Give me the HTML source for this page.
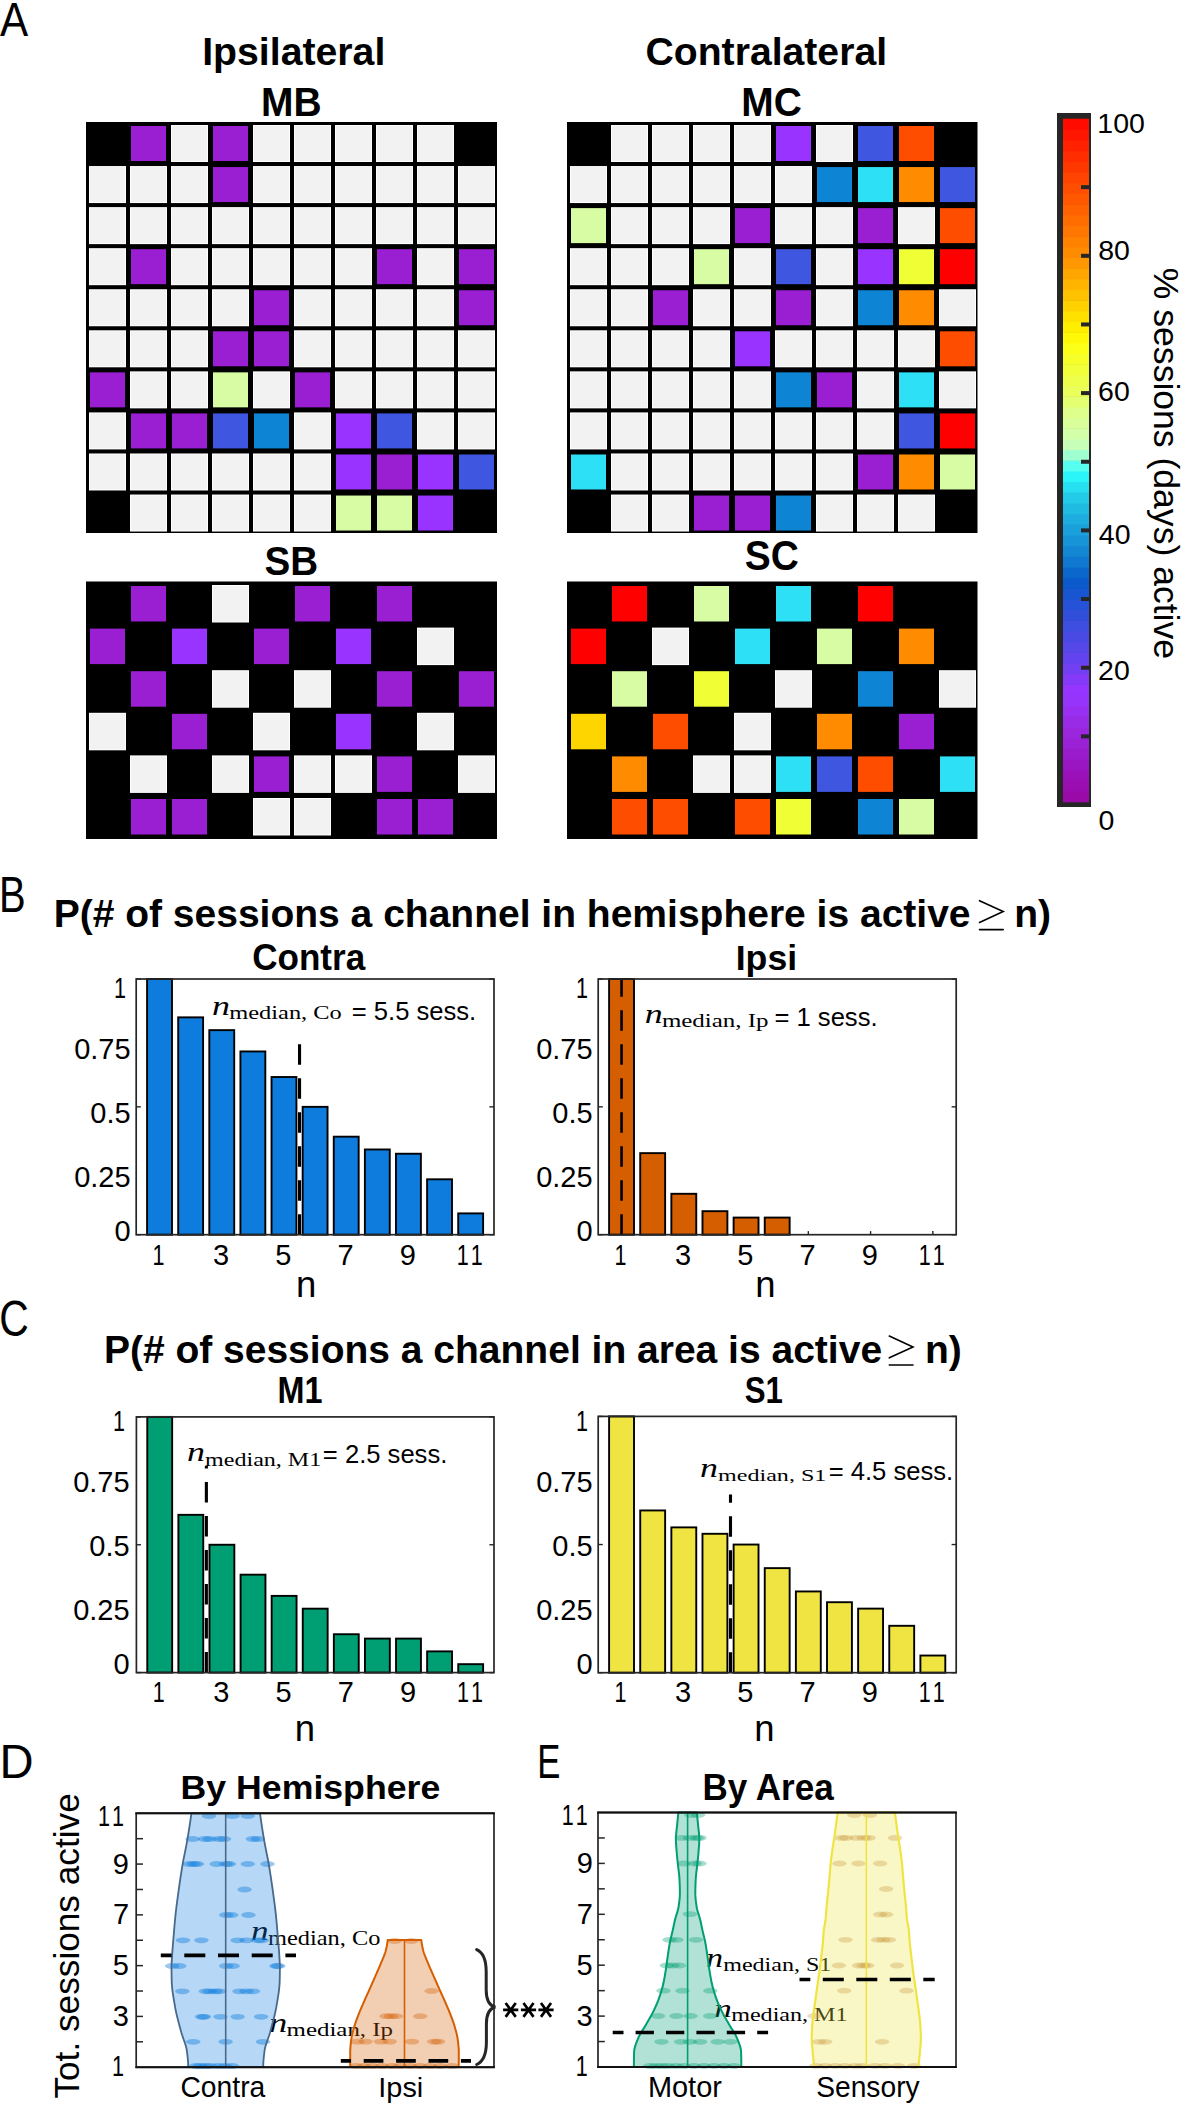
<!DOCTYPE html>
<html><head><meta charset="utf-8"><style>
html,body{margin:0;padding:0;background:#fff;}
body{width:1181px;height:2103px;overflow:hidden;}
svg{display:block;}
</style></head><body>
<svg width="1181" height="2103" viewBox="0 0 1181 2103">
<rect width="1181" height="2103" fill="#fff"/>
<rect x="86.00" y="122.00" width="411.00" height="411.00" fill="#000" />
<rect x="131.00" y="126.00" width="35.00" height="35.00" fill="#9A1ED2" />
<rect x="171.00" y="125.00" width="37.00" height="37.00" fill="#FFFFFF" />
<rect x="172.00" y="126.00" width="35.00" height="35.00" fill="#F2F2F2" />
<rect x="213.00" y="126.00" width="35.00" height="35.00" fill="#9A1ED2" />
<rect x="253.00" y="125.00" width="37.00" height="37.00" fill="#FFFFFF" />
<rect x="254.00" y="126.00" width="35.00" height="35.00" fill="#F2F2F2" />
<rect x="294.00" y="125.00" width="37.00" height="37.00" fill="#FFFFFF" />
<rect x="295.00" y="126.00" width="35.00" height="35.00" fill="#F2F2F2" />
<rect x="335.00" y="125.00" width="37.00" height="37.00" fill="#FFFFFF" />
<rect x="336.00" y="126.00" width="35.00" height="35.00" fill="#F2F2F2" />
<rect x="376.00" y="125.00" width="37.00" height="37.00" fill="#FFFFFF" />
<rect x="377.00" y="126.00" width="35.00" height="35.00" fill="#F2F2F2" />
<rect x="417.00" y="125.00" width="37.00" height="37.00" fill="#FFFFFF" />
<rect x="418.00" y="126.00" width="35.00" height="35.00" fill="#F2F2F2" />
<rect x="89.00" y="166.06" width="37.00" height="37.00" fill="#FFFFFF" />
<rect x="90.00" y="167.06" width="35.00" height="35.00" fill="#F2F2F2" />
<rect x="130.00" y="166.06" width="37.00" height="37.00" fill="#FFFFFF" />
<rect x="131.00" y="167.06" width="35.00" height="35.00" fill="#F2F2F2" />
<rect x="171.00" y="166.06" width="37.00" height="37.00" fill="#FFFFFF" />
<rect x="172.00" y="167.06" width="35.00" height="35.00" fill="#F2F2F2" />
<rect x="213.00" y="167.06" width="35.00" height="35.00" fill="#9A1ED2" />
<rect x="253.00" y="166.06" width="37.00" height="37.00" fill="#FFFFFF" />
<rect x="254.00" y="167.06" width="35.00" height="35.00" fill="#F2F2F2" />
<rect x="294.00" y="166.06" width="37.00" height="37.00" fill="#FFFFFF" />
<rect x="295.00" y="167.06" width="35.00" height="35.00" fill="#F2F2F2" />
<rect x="335.00" y="166.06" width="37.00" height="37.00" fill="#FFFFFF" />
<rect x="336.00" y="167.06" width="35.00" height="35.00" fill="#F2F2F2" />
<rect x="376.00" y="166.06" width="37.00" height="37.00" fill="#FFFFFF" />
<rect x="377.00" y="167.06" width="35.00" height="35.00" fill="#F2F2F2" />
<rect x="417.00" y="166.06" width="37.00" height="37.00" fill="#FFFFFF" />
<rect x="418.00" y="167.06" width="35.00" height="35.00" fill="#F2F2F2" />
<rect x="458.00" y="166.06" width="37.00" height="37.00" fill="#FFFFFF" />
<rect x="459.00" y="167.06" width="35.00" height="35.00" fill="#F2F2F2" />
<rect x="89.00" y="207.12" width="37.00" height="37.00" fill="#FFFFFF" />
<rect x="90.00" y="208.12" width="35.00" height="35.00" fill="#F2F2F2" />
<rect x="130.00" y="207.12" width="37.00" height="37.00" fill="#FFFFFF" />
<rect x="131.00" y="208.12" width="35.00" height="35.00" fill="#F2F2F2" />
<rect x="171.00" y="207.12" width="37.00" height="37.00" fill="#FFFFFF" />
<rect x="172.00" y="208.12" width="35.00" height="35.00" fill="#F2F2F2" />
<rect x="212.00" y="207.12" width="37.00" height="37.00" fill="#FFFFFF" />
<rect x="213.00" y="208.12" width="35.00" height="35.00" fill="#F2F2F2" />
<rect x="253.00" y="207.12" width="37.00" height="37.00" fill="#FFFFFF" />
<rect x="254.00" y="208.12" width="35.00" height="35.00" fill="#F2F2F2" />
<rect x="294.00" y="207.12" width="37.00" height="37.00" fill="#FFFFFF" />
<rect x="295.00" y="208.12" width="35.00" height="35.00" fill="#F2F2F2" />
<rect x="335.00" y="207.12" width="37.00" height="37.00" fill="#FFFFFF" />
<rect x="336.00" y="208.12" width="35.00" height="35.00" fill="#F2F2F2" />
<rect x="376.00" y="207.12" width="37.00" height="37.00" fill="#FFFFFF" />
<rect x="377.00" y="208.12" width="35.00" height="35.00" fill="#F2F2F2" />
<rect x="417.00" y="207.12" width="37.00" height="37.00" fill="#FFFFFF" />
<rect x="418.00" y="208.12" width="35.00" height="35.00" fill="#F2F2F2" />
<rect x="458.00" y="207.12" width="37.00" height="37.00" fill="#FFFFFF" />
<rect x="459.00" y="208.12" width="35.00" height="35.00" fill="#F2F2F2" />
<rect x="89.00" y="248.18" width="37.00" height="37.00" fill="#FFFFFF" />
<rect x="90.00" y="249.18" width="35.00" height="35.00" fill="#F2F2F2" />
<rect x="131.00" y="249.18" width="35.00" height="35.00" fill="#9A1ED2" />
<rect x="171.00" y="248.18" width="37.00" height="37.00" fill="#FFFFFF" />
<rect x="172.00" y="249.18" width="35.00" height="35.00" fill="#F2F2F2" />
<rect x="212.00" y="248.18" width="37.00" height="37.00" fill="#FFFFFF" />
<rect x="213.00" y="249.18" width="35.00" height="35.00" fill="#F2F2F2" />
<rect x="253.00" y="248.18" width="37.00" height="37.00" fill="#FFFFFF" />
<rect x="254.00" y="249.18" width="35.00" height="35.00" fill="#F2F2F2" />
<rect x="294.00" y="248.18" width="37.00" height="37.00" fill="#FFFFFF" />
<rect x="295.00" y="249.18" width="35.00" height="35.00" fill="#F2F2F2" />
<rect x="335.00" y="248.18" width="37.00" height="37.00" fill="#FFFFFF" />
<rect x="336.00" y="249.18" width="35.00" height="35.00" fill="#F2F2F2" />
<rect x="377.00" y="249.18" width="35.00" height="35.00" fill="#9A1ED2" />
<rect x="417.00" y="248.18" width="37.00" height="37.00" fill="#FFFFFF" />
<rect x="418.00" y="249.18" width="35.00" height="35.00" fill="#F2F2F2" />
<rect x="459.00" y="249.18" width="35.00" height="35.00" fill="#9A1ED2" />
<rect x="89.00" y="289.24" width="37.00" height="37.00" fill="#FFFFFF" />
<rect x="90.00" y="290.24" width="35.00" height="35.00" fill="#F2F2F2" />
<rect x="130.00" y="289.24" width="37.00" height="37.00" fill="#FFFFFF" />
<rect x="131.00" y="290.24" width="35.00" height="35.00" fill="#F2F2F2" />
<rect x="171.00" y="289.24" width="37.00" height="37.00" fill="#FFFFFF" />
<rect x="172.00" y="290.24" width="35.00" height="35.00" fill="#F2F2F2" />
<rect x="212.00" y="289.24" width="37.00" height="37.00" fill="#FFFFFF" />
<rect x="213.00" y="290.24" width="35.00" height="35.00" fill="#F2F2F2" />
<rect x="254.00" y="290.24" width="35.00" height="35.00" fill="#9A1ED2" />
<rect x="294.00" y="289.24" width="37.00" height="37.00" fill="#FFFFFF" />
<rect x="295.00" y="290.24" width="35.00" height="35.00" fill="#F2F2F2" />
<rect x="335.00" y="289.24" width="37.00" height="37.00" fill="#FFFFFF" />
<rect x="336.00" y="290.24" width="35.00" height="35.00" fill="#F2F2F2" />
<rect x="376.00" y="289.24" width="37.00" height="37.00" fill="#FFFFFF" />
<rect x="377.00" y="290.24" width="35.00" height="35.00" fill="#F2F2F2" />
<rect x="417.00" y="289.24" width="37.00" height="37.00" fill="#FFFFFF" />
<rect x="418.00" y="290.24" width="35.00" height="35.00" fill="#F2F2F2" />
<rect x="459.00" y="290.24" width="35.00" height="35.00" fill="#9A1ED2" />
<rect x="89.00" y="330.30" width="37.00" height="37.00" fill="#FFFFFF" />
<rect x="90.00" y="331.30" width="35.00" height="35.00" fill="#F2F2F2" />
<rect x="130.00" y="330.30" width="37.00" height="37.00" fill="#FFFFFF" />
<rect x="131.00" y="331.30" width="35.00" height="35.00" fill="#F2F2F2" />
<rect x="171.00" y="330.30" width="37.00" height="37.00" fill="#FFFFFF" />
<rect x="172.00" y="331.30" width="35.00" height="35.00" fill="#F2F2F2" />
<rect x="213.00" y="331.30" width="35.00" height="35.00" fill="#9A1ED2" />
<rect x="254.00" y="331.30" width="35.00" height="35.00" fill="#9A1ED2" />
<rect x="294.00" y="330.30" width="37.00" height="37.00" fill="#FFFFFF" />
<rect x="295.00" y="331.30" width="35.00" height="35.00" fill="#F2F2F2" />
<rect x="335.00" y="330.30" width="37.00" height="37.00" fill="#FFFFFF" />
<rect x="336.00" y="331.30" width="35.00" height="35.00" fill="#F2F2F2" />
<rect x="376.00" y="330.30" width="37.00" height="37.00" fill="#FFFFFF" />
<rect x="377.00" y="331.30" width="35.00" height="35.00" fill="#F2F2F2" />
<rect x="417.00" y="330.30" width="37.00" height="37.00" fill="#FFFFFF" />
<rect x="418.00" y="331.30" width="35.00" height="35.00" fill="#F2F2F2" />
<rect x="458.00" y="330.30" width="37.00" height="37.00" fill="#FFFFFF" />
<rect x="459.00" y="331.30" width="35.00" height="35.00" fill="#F2F2F2" />
<rect x="90.00" y="372.36" width="35.00" height="35.00" fill="#9A1ED2" />
<rect x="130.00" y="371.36" width="37.00" height="37.00" fill="#FFFFFF" />
<rect x="131.00" y="372.36" width="35.00" height="35.00" fill="#F2F2F2" />
<rect x="171.00" y="371.36" width="37.00" height="37.00" fill="#FFFFFF" />
<rect x="172.00" y="372.36" width="35.00" height="35.00" fill="#F2F2F2" />
<rect x="213.00" y="372.36" width="35.00" height="35.00" fill="#D8FCA4" />
<rect x="253.00" y="371.36" width="37.00" height="37.00" fill="#FFFFFF" />
<rect x="254.00" y="372.36" width="35.00" height="35.00" fill="#F2F2F2" />
<rect x="295.00" y="372.36" width="35.00" height="35.00" fill="#9A1ED2" />
<rect x="335.00" y="371.36" width="37.00" height="37.00" fill="#FFFFFF" />
<rect x="336.00" y="372.36" width="35.00" height="35.00" fill="#F2F2F2" />
<rect x="376.00" y="371.36" width="37.00" height="37.00" fill="#FFFFFF" />
<rect x="377.00" y="372.36" width="35.00" height="35.00" fill="#F2F2F2" />
<rect x="417.00" y="371.36" width="37.00" height="37.00" fill="#FFFFFF" />
<rect x="418.00" y="372.36" width="35.00" height="35.00" fill="#F2F2F2" />
<rect x="458.00" y="371.36" width="37.00" height="37.00" fill="#FFFFFF" />
<rect x="459.00" y="372.36" width="35.00" height="35.00" fill="#F2F2F2" />
<rect x="89.00" y="412.42" width="37.00" height="37.00" fill="#FFFFFF" />
<rect x="90.00" y="413.42" width="35.00" height="35.00" fill="#F2F2F2" />
<rect x="131.00" y="413.42" width="35.00" height="35.00" fill="#9A1ED2" />
<rect x="172.00" y="413.42" width="35.00" height="35.00" fill="#9A1ED2" />
<rect x="213.00" y="413.42" width="35.00" height="35.00" fill="#3F56E0" />
<rect x="254.00" y="413.42" width="35.00" height="35.00" fill="#0E84D4" />
<rect x="294.00" y="412.42" width="37.00" height="37.00" fill="#FFFFFF" />
<rect x="295.00" y="413.42" width="35.00" height="35.00" fill="#F2F2F2" />
<rect x="336.00" y="413.42" width="35.00" height="35.00" fill="#9933FF" />
<rect x="377.00" y="413.42" width="35.00" height="35.00" fill="#3F56E0" />
<rect x="417.00" y="412.42" width="37.00" height="37.00" fill="#FFFFFF" />
<rect x="418.00" y="413.42" width="35.00" height="35.00" fill="#F2F2F2" />
<rect x="458.00" y="412.42" width="37.00" height="37.00" fill="#FFFFFF" />
<rect x="459.00" y="413.42" width="35.00" height="35.00" fill="#F2F2F2" />
<rect x="89.00" y="453.48" width="37.00" height="37.00" fill="#FFFFFF" />
<rect x="90.00" y="454.48" width="35.00" height="35.00" fill="#F2F2F2" />
<rect x="130.00" y="453.48" width="37.00" height="37.00" fill="#FFFFFF" />
<rect x="131.00" y="454.48" width="35.00" height="35.00" fill="#F2F2F2" />
<rect x="171.00" y="453.48" width="37.00" height="37.00" fill="#FFFFFF" />
<rect x="172.00" y="454.48" width="35.00" height="35.00" fill="#F2F2F2" />
<rect x="212.00" y="453.48" width="37.00" height="37.00" fill="#FFFFFF" />
<rect x="213.00" y="454.48" width="35.00" height="35.00" fill="#F2F2F2" />
<rect x="253.00" y="453.48" width="37.00" height="37.00" fill="#FFFFFF" />
<rect x="254.00" y="454.48" width="35.00" height="35.00" fill="#F2F2F2" />
<rect x="294.00" y="453.48" width="37.00" height="37.00" fill="#FFFFFF" />
<rect x="295.00" y="454.48" width="35.00" height="35.00" fill="#F2F2F2" />
<rect x="336.00" y="454.48" width="35.00" height="35.00" fill="#9933FF" />
<rect x="377.00" y="454.48" width="35.00" height="35.00" fill="#9A1ED2" />
<rect x="418.00" y="454.48" width="35.00" height="35.00" fill="#9933FF" />
<rect x="459.00" y="454.48" width="35.00" height="35.00" fill="#3F56E0" />
<rect x="130.00" y="494.54" width="37.00" height="37.00" fill="#FFFFFF" />
<rect x="131.00" y="495.54" width="35.00" height="35.00" fill="#F2F2F2" />
<rect x="171.00" y="494.54" width="37.00" height="37.00" fill="#FFFFFF" />
<rect x="172.00" y="495.54" width="35.00" height="35.00" fill="#F2F2F2" />
<rect x="212.00" y="494.54" width="37.00" height="37.00" fill="#FFFFFF" />
<rect x="213.00" y="495.54" width="35.00" height="35.00" fill="#F2F2F2" />
<rect x="253.00" y="494.54" width="37.00" height="37.00" fill="#FFFFFF" />
<rect x="254.00" y="495.54" width="35.00" height="35.00" fill="#F2F2F2" />
<rect x="294.00" y="494.54" width="37.00" height="37.00" fill="#FFFFFF" />
<rect x="295.00" y="495.54" width="35.00" height="35.00" fill="#F2F2F2" />
<rect x="336.00" y="495.54" width="35.00" height="35.00" fill="#D8FCA4" />
<rect x="377.00" y="495.54" width="35.00" height="35.00" fill="#D8FCA4" />
<rect x="418.00" y="495.54" width="35.00" height="35.00" fill="#9933FF" />
<rect x="567.00" y="122.00" width="410.50" height="411.00" fill="#000" />
<rect x="611.00" y="125.00" width="37.00" height="37.00" fill="#FFFFFF" />
<rect x="612.00" y="126.00" width="35.00" height="35.00" fill="#F2F2F2" />
<rect x="652.00" y="125.00" width="37.00" height="37.00" fill="#FFFFFF" />
<rect x="653.00" y="126.00" width="35.00" height="35.00" fill="#F2F2F2" />
<rect x="693.00" y="125.00" width="37.00" height="37.00" fill="#FFFFFF" />
<rect x="694.00" y="126.00" width="35.00" height="35.00" fill="#F2F2F2" />
<rect x="734.00" y="125.00" width="37.00" height="37.00" fill="#FFFFFF" />
<rect x="735.00" y="126.00" width="35.00" height="35.00" fill="#F2F2F2" />
<rect x="776.00" y="126.00" width="35.00" height="35.00" fill="#9933FF" />
<rect x="816.00" y="125.00" width="37.00" height="37.00" fill="#FFFFFF" />
<rect x="817.00" y="126.00" width="35.00" height="35.00" fill="#F2F2F2" />
<rect x="858.00" y="126.00" width="35.00" height="35.00" fill="#3F56E0" />
<rect x="899.00" y="126.00" width="35.00" height="35.00" fill="#FF4D00" />
<rect x="570.00" y="166.06" width="37.00" height="37.00" fill="#FFFFFF" />
<rect x="571.00" y="167.06" width="35.00" height="35.00" fill="#F2F2F2" />
<rect x="611.00" y="166.06" width="37.00" height="37.00" fill="#FFFFFF" />
<rect x="612.00" y="167.06" width="35.00" height="35.00" fill="#F2F2F2" />
<rect x="652.00" y="166.06" width="37.00" height="37.00" fill="#FFFFFF" />
<rect x="653.00" y="167.06" width="35.00" height="35.00" fill="#F2F2F2" />
<rect x="693.00" y="166.06" width="37.00" height="37.00" fill="#FFFFFF" />
<rect x="694.00" y="167.06" width="35.00" height="35.00" fill="#F2F2F2" />
<rect x="734.00" y="166.06" width="37.00" height="37.00" fill="#FFFFFF" />
<rect x="735.00" y="167.06" width="35.00" height="35.00" fill="#F2F2F2" />
<rect x="775.00" y="166.06" width="37.00" height="37.00" fill="#FFFFFF" />
<rect x="776.00" y="167.06" width="35.00" height="35.00" fill="#F2F2F2" />
<rect x="817.00" y="167.06" width="35.00" height="35.00" fill="#0E84D4" />
<rect x="858.00" y="167.06" width="35.00" height="35.00" fill="#2EE0F5" />
<rect x="899.00" y="167.06" width="35.00" height="35.00" fill="#FF8C00" />
<rect x="940.00" y="167.06" width="35.00" height="35.00" fill="#3F56E0" />
<rect x="571.00" y="208.12" width="35.00" height="35.00" fill="#D8FCA4" />
<rect x="611.00" y="207.12" width="37.00" height="37.00" fill="#FFFFFF" />
<rect x="612.00" y="208.12" width="35.00" height="35.00" fill="#F2F2F2" />
<rect x="652.00" y="207.12" width="37.00" height="37.00" fill="#FFFFFF" />
<rect x="653.00" y="208.12" width="35.00" height="35.00" fill="#F2F2F2" />
<rect x="693.00" y="207.12" width="37.00" height="37.00" fill="#FFFFFF" />
<rect x="694.00" y="208.12" width="35.00" height="35.00" fill="#F2F2F2" />
<rect x="735.00" y="208.12" width="35.00" height="35.00" fill="#9A1ED2" />
<rect x="775.00" y="207.12" width="37.00" height="37.00" fill="#FFFFFF" />
<rect x="776.00" y="208.12" width="35.00" height="35.00" fill="#F2F2F2" />
<rect x="816.00" y="207.12" width="37.00" height="37.00" fill="#FFFFFF" />
<rect x="817.00" y="208.12" width="35.00" height="35.00" fill="#F2F2F2" />
<rect x="858.00" y="208.12" width="35.00" height="35.00" fill="#9A1ED2" />
<rect x="898.00" y="207.12" width="37.00" height="37.00" fill="#FFFFFF" />
<rect x="899.00" y="208.12" width="35.00" height="35.00" fill="#F2F2F2" />
<rect x="940.00" y="208.12" width="35.00" height="35.00" fill="#FF4D00" />
<rect x="570.00" y="248.18" width="37.00" height="37.00" fill="#FFFFFF" />
<rect x="571.00" y="249.18" width="35.00" height="35.00" fill="#F2F2F2" />
<rect x="611.00" y="248.18" width="37.00" height="37.00" fill="#FFFFFF" />
<rect x="612.00" y="249.18" width="35.00" height="35.00" fill="#F2F2F2" />
<rect x="652.00" y="248.18" width="37.00" height="37.00" fill="#FFFFFF" />
<rect x="653.00" y="249.18" width="35.00" height="35.00" fill="#F2F2F2" />
<rect x="694.00" y="249.18" width="35.00" height="35.00" fill="#D8FCA4" />
<rect x="734.00" y="248.18" width="37.00" height="37.00" fill="#FFFFFF" />
<rect x="735.00" y="249.18" width="35.00" height="35.00" fill="#F2F2F2" />
<rect x="776.00" y="249.18" width="35.00" height="35.00" fill="#3F56E0" />
<rect x="816.00" y="248.18" width="37.00" height="37.00" fill="#FFFFFF" />
<rect x="817.00" y="249.18" width="35.00" height="35.00" fill="#F2F2F2" />
<rect x="858.00" y="249.18" width="35.00" height="35.00" fill="#9933FF" />
<rect x="899.00" y="249.18" width="35.00" height="35.00" fill="#F0FF35" />
<rect x="940.00" y="249.18" width="35.00" height="35.00" fill="#FF0000" />
<rect x="570.00" y="289.24" width="37.00" height="37.00" fill="#FFFFFF" />
<rect x="571.00" y="290.24" width="35.00" height="35.00" fill="#F2F2F2" />
<rect x="611.00" y="289.24" width="37.00" height="37.00" fill="#FFFFFF" />
<rect x="612.00" y="290.24" width="35.00" height="35.00" fill="#F2F2F2" />
<rect x="653.00" y="290.24" width="35.00" height="35.00" fill="#9A1ED2" />
<rect x="693.00" y="289.24" width="37.00" height="37.00" fill="#FFFFFF" />
<rect x="694.00" y="290.24" width="35.00" height="35.00" fill="#F2F2F2" />
<rect x="734.00" y="289.24" width="37.00" height="37.00" fill="#FFFFFF" />
<rect x="735.00" y="290.24" width="35.00" height="35.00" fill="#F2F2F2" />
<rect x="776.00" y="290.24" width="35.00" height="35.00" fill="#9A1ED2" />
<rect x="816.00" y="289.24" width="37.00" height="37.00" fill="#FFFFFF" />
<rect x="817.00" y="290.24" width="35.00" height="35.00" fill="#F2F2F2" />
<rect x="858.00" y="290.24" width="35.00" height="35.00" fill="#0E84D4" />
<rect x="899.00" y="290.24" width="35.00" height="35.00" fill="#FF8C00" />
<rect x="939.00" y="289.24" width="37.00" height="37.00" fill="#FFFFFF" />
<rect x="940.00" y="290.24" width="35.00" height="35.00" fill="#F2F2F2" />
<rect x="570.00" y="330.30" width="37.00" height="37.00" fill="#FFFFFF" />
<rect x="571.00" y="331.30" width="35.00" height="35.00" fill="#F2F2F2" />
<rect x="611.00" y="330.30" width="37.00" height="37.00" fill="#FFFFFF" />
<rect x="612.00" y="331.30" width="35.00" height="35.00" fill="#F2F2F2" />
<rect x="652.00" y="330.30" width="37.00" height="37.00" fill="#FFFFFF" />
<rect x="653.00" y="331.30" width="35.00" height="35.00" fill="#F2F2F2" />
<rect x="693.00" y="330.30" width="37.00" height="37.00" fill="#FFFFFF" />
<rect x="694.00" y="331.30" width="35.00" height="35.00" fill="#F2F2F2" />
<rect x="735.00" y="331.30" width="35.00" height="35.00" fill="#9933FF" />
<rect x="775.00" y="330.30" width="37.00" height="37.00" fill="#FFFFFF" />
<rect x="776.00" y="331.30" width="35.00" height="35.00" fill="#F2F2F2" />
<rect x="816.00" y="330.30" width="37.00" height="37.00" fill="#FFFFFF" />
<rect x="817.00" y="331.30" width="35.00" height="35.00" fill="#F2F2F2" />
<rect x="857.00" y="330.30" width="37.00" height="37.00" fill="#FFFFFF" />
<rect x="858.00" y="331.30" width="35.00" height="35.00" fill="#F2F2F2" />
<rect x="898.00" y="330.30" width="37.00" height="37.00" fill="#FFFFFF" />
<rect x="899.00" y="331.30" width="35.00" height="35.00" fill="#F2F2F2" />
<rect x="940.00" y="331.30" width="35.00" height="35.00" fill="#FF4D00" />
<rect x="570.00" y="371.36" width="37.00" height="37.00" fill="#FFFFFF" />
<rect x="571.00" y="372.36" width="35.00" height="35.00" fill="#F2F2F2" />
<rect x="611.00" y="371.36" width="37.00" height="37.00" fill="#FFFFFF" />
<rect x="612.00" y="372.36" width="35.00" height="35.00" fill="#F2F2F2" />
<rect x="652.00" y="371.36" width="37.00" height="37.00" fill="#FFFFFF" />
<rect x="653.00" y="372.36" width="35.00" height="35.00" fill="#F2F2F2" />
<rect x="693.00" y="371.36" width="37.00" height="37.00" fill="#FFFFFF" />
<rect x="694.00" y="372.36" width="35.00" height="35.00" fill="#F2F2F2" />
<rect x="734.00" y="371.36" width="37.00" height="37.00" fill="#FFFFFF" />
<rect x="735.00" y="372.36" width="35.00" height="35.00" fill="#F2F2F2" />
<rect x="776.00" y="372.36" width="35.00" height="35.00" fill="#0E84D4" />
<rect x="817.00" y="372.36" width="35.00" height="35.00" fill="#9A1ED2" />
<rect x="857.00" y="371.36" width="37.00" height="37.00" fill="#FFFFFF" />
<rect x="858.00" y="372.36" width="35.00" height="35.00" fill="#F2F2F2" />
<rect x="899.00" y="372.36" width="35.00" height="35.00" fill="#2EE0F5" />
<rect x="939.00" y="371.36" width="37.00" height="37.00" fill="#FFFFFF" />
<rect x="940.00" y="372.36" width="35.00" height="35.00" fill="#F2F2F2" />
<rect x="570.00" y="412.42" width="37.00" height="37.00" fill="#FFFFFF" />
<rect x="571.00" y="413.42" width="35.00" height="35.00" fill="#F2F2F2" />
<rect x="611.00" y="412.42" width="37.00" height="37.00" fill="#FFFFFF" />
<rect x="612.00" y="413.42" width="35.00" height="35.00" fill="#F2F2F2" />
<rect x="652.00" y="412.42" width="37.00" height="37.00" fill="#FFFFFF" />
<rect x="653.00" y="413.42" width="35.00" height="35.00" fill="#F2F2F2" />
<rect x="693.00" y="412.42" width="37.00" height="37.00" fill="#FFFFFF" />
<rect x="694.00" y="413.42" width="35.00" height="35.00" fill="#F2F2F2" />
<rect x="734.00" y="412.42" width="37.00" height="37.00" fill="#FFFFFF" />
<rect x="735.00" y="413.42" width="35.00" height="35.00" fill="#F2F2F2" />
<rect x="775.00" y="412.42" width="37.00" height="37.00" fill="#FFFFFF" />
<rect x="776.00" y="413.42" width="35.00" height="35.00" fill="#F2F2F2" />
<rect x="816.00" y="412.42" width="37.00" height="37.00" fill="#FFFFFF" />
<rect x="817.00" y="413.42" width="35.00" height="35.00" fill="#F2F2F2" />
<rect x="857.00" y="412.42" width="37.00" height="37.00" fill="#FFFFFF" />
<rect x="858.00" y="413.42" width="35.00" height="35.00" fill="#F2F2F2" />
<rect x="899.00" y="413.42" width="35.00" height="35.00" fill="#3F56E0" />
<rect x="940.00" y="413.42" width="35.00" height="35.00" fill="#FF0000" />
<rect x="571.00" y="454.48" width="35.00" height="35.00" fill="#2EE0F5" />
<rect x="611.00" y="453.48" width="37.00" height="37.00" fill="#FFFFFF" />
<rect x="612.00" y="454.48" width="35.00" height="35.00" fill="#F2F2F2" />
<rect x="652.00" y="453.48" width="37.00" height="37.00" fill="#FFFFFF" />
<rect x="653.00" y="454.48" width="35.00" height="35.00" fill="#F2F2F2" />
<rect x="693.00" y="453.48" width="37.00" height="37.00" fill="#FFFFFF" />
<rect x="694.00" y="454.48" width="35.00" height="35.00" fill="#F2F2F2" />
<rect x="734.00" y="453.48" width="37.00" height="37.00" fill="#FFFFFF" />
<rect x="735.00" y="454.48" width="35.00" height="35.00" fill="#F2F2F2" />
<rect x="775.00" y="453.48" width="37.00" height="37.00" fill="#FFFFFF" />
<rect x="776.00" y="454.48" width="35.00" height="35.00" fill="#F2F2F2" />
<rect x="816.00" y="453.48" width="37.00" height="37.00" fill="#FFFFFF" />
<rect x="817.00" y="454.48" width="35.00" height="35.00" fill="#F2F2F2" />
<rect x="858.00" y="454.48" width="35.00" height="35.00" fill="#9A1ED2" />
<rect x="899.00" y="454.48" width="35.00" height="35.00" fill="#FF8C00" />
<rect x="940.00" y="454.48" width="35.00" height="35.00" fill="#D8FCA4" />
<rect x="611.00" y="494.54" width="37.00" height="37.00" fill="#FFFFFF" />
<rect x="612.00" y="495.54" width="35.00" height="35.00" fill="#F2F2F2" />
<rect x="652.00" y="494.54" width="37.00" height="37.00" fill="#FFFFFF" />
<rect x="653.00" y="495.54" width="35.00" height="35.00" fill="#F2F2F2" />
<rect x="694.00" y="495.54" width="35.00" height="35.00" fill="#9A1ED2" />
<rect x="735.00" y="495.54" width="35.00" height="35.00" fill="#9A1ED2" />
<rect x="776.00" y="495.54" width="35.00" height="35.00" fill="#0E84D4" />
<rect x="816.00" y="494.54" width="37.00" height="37.00" fill="#FFFFFF" />
<rect x="817.00" y="495.54" width="35.00" height="35.00" fill="#F2F2F2" />
<rect x="857.00" y="494.54" width="37.00" height="37.00" fill="#FFFFFF" />
<rect x="858.00" y="495.54" width="35.00" height="35.00" fill="#F2F2F2" />
<rect x="898.00" y="494.54" width="37.00" height="37.00" fill="#FFFFFF" />
<rect x="899.00" y="495.54" width="35.00" height="35.00" fill="#F2F2F2" />
<rect x="86.00" y="581.50" width="411.00" height="257.50" fill="#000" />
<rect x="131.00" y="586.00" width="35.00" height="35.50" fill="#9A1ED2" />
<rect x="212.00" y="585.00" width="37.00" height="37.50" fill="#FFFFFF" />
<rect x="213.00" y="586.00" width="35.00" height="35.50" fill="#F2F2F2" />
<rect x="295.00" y="586.00" width="35.00" height="35.50" fill="#9A1ED2" />
<rect x="377.00" y="586.00" width="35.00" height="35.50" fill="#9A1ED2" />
<rect x="90.00" y="628.60" width="35.00" height="35.50" fill="#9A1ED2" />
<rect x="172.00" y="628.60" width="35.00" height="35.50" fill="#9933FF" />
<rect x="254.00" y="628.60" width="35.00" height="35.50" fill="#9A1ED2" />
<rect x="336.00" y="628.60" width="35.00" height="35.50" fill="#9933FF" />
<rect x="417.00" y="627.60" width="37.00" height="37.50" fill="#FFFFFF" />
<rect x="418.00" y="628.60" width="35.00" height="35.50" fill="#F2F2F2" />
<rect x="131.00" y="671.20" width="35.00" height="35.50" fill="#9A1ED2" />
<rect x="212.00" y="670.20" width="37.00" height="37.50" fill="#FFFFFF" />
<rect x="213.00" y="671.20" width="35.00" height="35.50" fill="#F2F2F2" />
<rect x="294.00" y="670.20" width="37.00" height="37.50" fill="#FFFFFF" />
<rect x="295.00" y="671.20" width="35.00" height="35.50" fill="#F2F2F2" />
<rect x="377.00" y="671.20" width="35.00" height="35.50" fill="#9A1ED2" />
<rect x="459.00" y="671.20" width="35.00" height="35.50" fill="#9A1ED2" />
<rect x="89.00" y="712.80" width="37.00" height="37.50" fill="#FFFFFF" />
<rect x="90.00" y="713.80" width="35.00" height="35.50" fill="#F2F2F2" />
<rect x="172.00" y="713.80" width="35.00" height="35.50" fill="#9A1ED2" />
<rect x="253.00" y="712.80" width="37.00" height="37.50" fill="#FFFFFF" />
<rect x="254.00" y="713.80" width="35.00" height="35.50" fill="#F2F2F2" />
<rect x="336.00" y="713.80" width="35.00" height="35.50" fill="#9933FF" />
<rect x="417.00" y="712.80" width="37.00" height="37.50" fill="#FFFFFF" />
<rect x="418.00" y="713.80" width="35.00" height="35.50" fill="#F2F2F2" />
<rect x="130.00" y="755.40" width="37.00" height="37.50" fill="#FFFFFF" />
<rect x="131.00" y="756.40" width="35.00" height="35.50" fill="#F2F2F2" />
<rect x="212.00" y="755.40" width="37.00" height="37.50" fill="#FFFFFF" />
<rect x="213.00" y="756.40" width="35.00" height="35.50" fill="#F2F2F2" />
<rect x="254.00" y="756.40" width="35.00" height="35.50" fill="#9A1ED2" />
<rect x="294.00" y="755.40" width="37.00" height="37.50" fill="#FFFFFF" />
<rect x="295.00" y="756.40" width="35.00" height="35.50" fill="#F2F2F2" />
<rect x="335.00" y="755.40" width="37.00" height="37.50" fill="#FFFFFF" />
<rect x="336.00" y="756.40" width="35.00" height="35.50" fill="#F2F2F2" />
<rect x="377.00" y="756.40" width="35.00" height="35.50" fill="#9A1ED2" />
<rect x="458.00" y="755.40" width="37.00" height="37.50" fill="#FFFFFF" />
<rect x="459.00" y="756.40" width="35.00" height="35.50" fill="#F2F2F2" />
<rect x="131.00" y="799.00" width="35.00" height="35.50" fill="#9A1ED2" />
<rect x="172.00" y="799.00" width="35.00" height="35.50" fill="#9A1ED2" />
<rect x="253.00" y="798.00" width="37.00" height="37.50" fill="#FFFFFF" />
<rect x="254.00" y="799.00" width="35.00" height="35.50" fill="#F2F2F2" />
<rect x="294.00" y="798.00" width="37.00" height="37.50" fill="#FFFFFF" />
<rect x="295.00" y="799.00" width="35.00" height="35.50" fill="#F2F2F2" />
<rect x="377.00" y="799.00" width="35.00" height="35.50" fill="#9A1ED2" />
<rect x="418.00" y="799.00" width="35.00" height="35.50" fill="#9A1ED2" />
<rect x="567.00" y="581.50" width="410.50" height="257.50" fill="#000" />
<rect x="612.00" y="586.00" width="35.00" height="35.50" fill="#FF0000" />
<rect x="694.00" y="586.00" width="35.00" height="35.50" fill="#D8FCA4" />
<rect x="776.00" y="586.00" width="35.00" height="35.50" fill="#2EE0F5" />
<rect x="858.00" y="586.00" width="35.00" height="35.50" fill="#FF0000" />
<rect x="571.00" y="628.60" width="35.00" height="35.50" fill="#FF0000" />
<rect x="652.00" y="627.60" width="37.00" height="37.50" fill="#FFFFFF" />
<rect x="653.00" y="628.60" width="35.00" height="35.50" fill="#F2F2F2" />
<rect x="735.00" y="628.60" width="35.00" height="35.50" fill="#2EE0F5" />
<rect x="817.00" y="628.60" width="35.00" height="35.50" fill="#D8FCA4" />
<rect x="899.00" y="628.60" width="35.00" height="35.50" fill="#FF8C00" />
<rect x="612.00" y="671.20" width="35.00" height="35.50" fill="#D8FCA4" />
<rect x="694.00" y="671.20" width="35.00" height="35.50" fill="#F0FF35" />
<rect x="775.00" y="670.20" width="37.00" height="37.50" fill="#FFFFFF" />
<rect x="776.00" y="671.20" width="35.00" height="35.50" fill="#F2F2F2" />
<rect x="858.00" y="671.20" width="35.00" height="35.50" fill="#0E84D4" />
<rect x="939.00" y="670.20" width="37.00" height="37.50" fill="#FFFFFF" />
<rect x="940.00" y="671.20" width="35.00" height="35.50" fill="#F2F2F2" />
<rect x="571.00" y="713.80" width="35.00" height="35.50" fill="#FFD500" />
<rect x="653.00" y="713.80" width="35.00" height="35.50" fill="#FF4D00" />
<rect x="734.00" y="712.80" width="37.00" height="37.50" fill="#FFFFFF" />
<rect x="735.00" y="713.80" width="35.00" height="35.50" fill="#F2F2F2" />
<rect x="817.00" y="713.80" width="35.00" height="35.50" fill="#FF8C00" />
<rect x="899.00" y="713.80" width="35.00" height="35.50" fill="#9A1ED2" />
<rect x="612.00" y="756.40" width="35.00" height="35.50" fill="#FF8C00" />
<rect x="693.00" y="755.40" width="37.00" height="37.50" fill="#FFFFFF" />
<rect x="694.00" y="756.40" width="35.00" height="35.50" fill="#F2F2F2" />
<rect x="734.00" y="755.40" width="37.00" height="37.50" fill="#FFFFFF" />
<rect x="735.00" y="756.40" width="35.00" height="35.50" fill="#F2F2F2" />
<rect x="776.00" y="756.40" width="35.00" height="35.50" fill="#2EE0F5" />
<rect x="817.00" y="756.40" width="35.00" height="35.50" fill="#3F56E0" />
<rect x="858.00" y="756.40" width="35.00" height="35.50" fill="#FF4D00" />
<rect x="940.00" y="756.40" width="35.00" height="35.50" fill="#2EE0F5" />
<rect x="612.00" y="799.00" width="35.00" height="35.50" fill="#FF4D00" />
<rect x="653.00" y="799.00" width="35.00" height="35.50" fill="#FF4D00" />
<rect x="735.00" y="799.00" width="35.00" height="35.50" fill="#FF4D00" />
<rect x="776.00" y="799.00" width="35.00" height="35.50" fill="#F0FF35" />
<rect x="858.00" y="799.00" width="35.00" height="35.50" fill="#0E84D4" />
<rect x="899.00" y="799.00" width="35.00" height="35.50" fill="#D8FCA4" />
<rect x="1057.00" y="113.00" width="34.00" height="694.00" fill="#262626" />
<rect x="1063.00" y="791.03" width="26.00" height="11.27" fill="rgb(153,10,169)" />
<rect x="1063.00" y="780.36" width="26.00" height="11.27" fill="rgb(154,13,177)" />
<rect x="1063.00" y="769.68" width="26.00" height="11.27" fill="rgb(154,17,185)" />
<rect x="1063.00" y="759.01" width="26.00" height="11.27" fill="rgb(154,22,195)" />
<rect x="1063.00" y="748.34" width="26.00" height="11.27" fill="rgb(154,27,204)" />
<rect x="1063.00" y="737.67" width="26.00" height="11.27" fill="rgb(154,33,213)" />
<rect x="1063.00" y="727.00" width="26.00" height="11.27" fill="rgb(154,38,222)" />
<rect x="1063.00" y="716.33" width="26.00" height="11.27" fill="rgb(153,43,230)" />
<rect x="1063.00" y="705.65" width="26.00" height="11.27" fill="rgb(152,47,241)" />
<rect x="1063.00" y="694.98" width="26.00" height="11.27" fill="rgb(150,52,251)" />
<rect x="1063.00" y="684.31" width="26.00" height="11.27" fill="rgb(149,53,255)" />
<rect x="1063.00" y="673.64" width="26.00" height="11.27" fill="rgb(133,58,250)" />
<rect x="1063.00" y="662.97" width="26.00" height="11.27" fill="rgb(115,63,242)" />
<rect x="1063.00" y="652.29" width="26.00" height="11.27" fill="rgb(99,67,237)" />
<rect x="1063.00" y="641.62" width="26.00" height="11.27" fill="rgb(85,71,232)" />
<rect x="1063.00" y="630.95" width="26.00" height="11.27" fill="rgb(73,74,228)" />
<rect x="1063.00" y="620.28" width="26.00" height="11.27" fill="rgb(62,78,225)" />
<rect x="1063.00" y="609.61" width="26.00" height="11.27" fill="rgb(50,79,220)" />
<rect x="1063.00" y="598.93" width="26.00" height="11.27" fill="rgb(37,82,214)" />
<rect x="1063.00" y="588.26" width="26.00" height="11.27" fill="rgb(24,85,209)" />
<rect x="1063.00" y="577.59" width="26.00" height="11.27" fill="rgb(10,90,204)" />
<rect x="1063.00" y="566.92" width="26.00" height="11.27" fill="rgb(12,103,204)" />
<rect x="1063.00" y="556.25" width="26.00" height="11.27" fill="rgb(16,120,208)" />
<rect x="1063.00" y="545.58" width="26.00" height="11.27" fill="rgb(19,134,212)" />
<rect x="1063.00" y="534.90" width="26.00" height="11.27" fill="rgb(23,147,216)" />
<rect x="1063.00" y="524.23" width="26.00" height="11.27" fill="rgb(26,160,219)" />
<rect x="1063.00" y="513.56" width="26.00" height="11.27" fill="rgb(29,173,222)" />
<rect x="1063.00" y="502.89" width="26.00" height="11.27" fill="rgb(32,187,224)" />
<rect x="1063.00" y="492.22" width="26.00" height="11.27" fill="rgb(35,203,233)" />
<rect x="1063.00" y="481.54" width="26.00" height="11.27" fill="rgb(38,224,241)" />
<rect x="1063.00" y="470.87" width="26.00" height="11.27" fill="rgb(44,245,249)" />
<rect x="1063.00" y="460.20" width="26.00" height="11.27" fill="rgb(86,255,240)" />
<rect x="1063.00" y="449.53" width="26.00" height="11.27" fill="rgb(160,255,209)" />
<rect x="1063.00" y="438.86" width="26.00" height="11.27" fill="rgb(200,255,184)" />
<rect x="1063.00" y="428.18" width="26.00" height="11.27" fill="rgb(212,255,169)" />
<rect x="1063.00" y="417.51" width="26.00" height="11.27" fill="rgb(217,255,155)" />
<rect x="1063.00" y="406.84" width="26.00" height="11.27" fill="rgb(222,255,139)" />
<rect x="1063.00" y="396.17" width="26.00" height="11.27" fill="rgb(228,255,112)" />
<rect x="1063.00" y="385.50" width="26.00" height="11.27" fill="rgb(234,255,90)" />
<rect x="1063.00" y="374.82" width="26.00" height="11.27" fill="rgb(237,255,75)" />
<rect x="1063.00" y="364.15" width="26.00" height="11.27" fill="rgb(241,255,58)" />
<rect x="1063.00" y="353.48" width="26.00" height="11.27" fill="rgb(246,255,42)" />
<rect x="1063.00" y="342.81" width="26.00" height="11.27" fill="rgb(252,255,23)" />
<rect x="1063.00" y="332.14" width="26.00" height="11.27" fill="rgb(255,249,8)" />
<rect x="1063.00" y="321.47" width="26.00" height="11.27" fill="rgb(255,238,0)" />
<rect x="1063.00" y="310.79" width="26.00" height="11.27" fill="rgb(255,225,0)" />
<rect x="1063.00" y="300.12" width="26.00" height="11.27" fill="rgb(255,209,0)" />
<rect x="1063.00" y="289.45" width="26.00" height="11.27" fill="rgb(255,194,0)" />
<rect x="1063.00" y="278.78" width="26.00" height="11.27" fill="rgb(255,180,0)" />
<rect x="1063.00" y="268.11" width="26.00" height="11.27" fill="rgb(255,167,0)" />
<rect x="1063.00" y="257.43" width="26.00" height="11.27" fill="rgb(255,151,0)" />
<rect x="1063.00" y="246.76" width="26.00" height="11.27" fill="rgb(255,140,0)" />
<rect x="1063.00" y="236.09" width="26.00" height="11.27" fill="rgb(255,129,0)" />
<rect x="1063.00" y="225.42" width="26.00" height="11.27" fill="rgb(255,118,0)" />
<rect x="1063.00" y="214.75" width="26.00" height="11.27" fill="rgb(255,109,0)" />
<rect x="1063.00" y="204.07" width="26.00" height="11.27" fill="rgb(255,98,0)" />
<rect x="1063.00" y="193.40" width="26.00" height="11.27" fill="rgb(255,88,0)" />
<rect x="1063.00" y="182.73" width="26.00" height="11.27" fill="rgb(255,78,0)" />
<rect x="1063.00" y="172.06" width="26.00" height="11.27" fill="rgb(255,67,0)" />
<rect x="1063.00" y="161.39" width="26.00" height="11.27" fill="rgb(255,56,0)" />
<rect x="1063.00" y="150.72" width="26.00" height="11.27" fill="rgb(255,45,0)" />
<rect x="1063.00" y="140.04" width="26.00" height="11.27" fill="rgb(255,33,0)" />
<rect x="1063.00" y="129.37" width="26.00" height="11.27" fill="rgb(255,22,0)" />
<rect x="1063.00" y="118.70" width="26.00" height="11.27" fill="rgb(255,11,0)" />
<rect x="1081.00" y="734.35" width="8.00" height="4.00" fill="#262626" />
<rect x="1081.00" y="665.70" width="8.00" height="4.00" fill="#262626" />
<rect x="1081.00" y="597.05" width="8.00" height="4.00" fill="#262626" />
<rect x="1081.00" y="528.40" width="8.00" height="4.00" fill="#262626" />
<rect x="1081.00" y="459.75" width="8.00" height="4.00" fill="#262626" />
<rect x="1081.00" y="391.10" width="8.00" height="4.00" fill="#262626" />
<rect x="1081.00" y="322.45" width="8.00" height="4.00" fill="#262626" />
<rect x="1081.00" y="253.80" width="8.00" height="4.00" fill="#262626" />
<rect x="1081.00" y="185.15" width="8.00" height="4.00" fill="#262626" />
<text x="1097.33" y="133.31" style='font-family:"Liberation Sans";font-size:28.50px;' fill="#000" >100</text>
<text x="1098.26" y="259.51" style='font-family:"Liberation Sans";font-size:28.50px;' fill="#000" >80</text>
<text x="1098.05" y="400.71" style='font-family:"Liberation Sans";font-size:28.50px;' fill="#000" >60</text>
<text x="1098.85" y="543.81" style='font-family:"Liberation Sans";font-size:28.50px;' fill="#000" >40</text>
<text x="1098.07" y="679.81" style='font-family:"Liberation Sans";font-size:28.50px;' fill="#000" >20</text>
<text x="1098.39" y="829.61" style='font-family:"Liberation Sans";font-size:28.50px;' fill="#000" >0</text>
<text transform="translate(-0.08,35.60) scale(0.4223,0.4884)" style='font-family:"Liberation Sans";font-size:100px;' fill="#000" >A</text>
<text transform="translate(202.18,64.80) scale(0.3924,0.3933)" style='font-family:"Liberation Sans";font-size:100px;font-weight:bold;' fill="#000" >Ipsilateral</text>
<text transform="translate(645.49,65.00) scale(0.3918,0.3961)" style='font-family:"Liberation Sans";font-size:100px;font-weight:bold;' fill="#000" >Contralateral</text>
<text transform="translate(260.99,115.60) scale(0.3895,0.4113)" style='font-family:"Liberation Sans";font-size:100px;font-weight:bold;' fill="#000" >MB</text>
<text transform="translate(741.29,115.60) scale(0.3895,0.4110)" style='font-family:"Liberation Sans";font-size:100px;font-weight:bold;' fill="#000" >MC</text>
<text transform="translate(264.49,574.60) scale(0.3863,0.4125)" style='font-family:"Liberation Sans";font-size:100px;font-weight:bold;' fill="#000" >SB</text>
<text transform="translate(744.78,570.40) scale(0.3893,0.4168)" style='font-family:"Liberation Sans";font-size:100px;font-weight:bold;' fill="#000" >SC</text>
<text transform="translate(-0.98,912.40) scale(0.4002,0.4942)" style='font-family:"Liberation Sans";font-size:100px;' fill="#000" >B</text>
<text x="53.69" y="926.90" style='font-family:"Liberation Sans";font-size:39.00px;font-weight:bold;' fill="#000" >P(# of sessions a channel in hemisphere is active</text>
<path d="M979.50 900.70 L1003.20 911.60 L979.50 922.40 M979.50 929.60 L1003.20 929.60" fill="none" stroke="#000" stroke-width="1.60" stroke-linecap="round" stroke-linejoin="miter"/>
<text x="1014.23" y="926.90" style='font-family:"Liberation Sans";font-size:39.00px;font-weight:bold;' fill="#000" >n)</text>
<text transform="translate(252.16,970.30) scale(0.3507,0.3638)" style='font-family:"Liberation Sans";font-size:100px;font-weight:bold;' fill="#000" >Contra</text>
<text transform="translate(735.72,970.30) scale(0.3565,0.3574)" style='font-family:"Liberation Sans";font-size:100px;font-weight:bold;' fill="#000" >Ipsi</text>
<line x1="159.53" y1="1234.70" x2="159.53" y2="1231.10" stroke="#262626" stroke-width="1.40" />
<line x1="221.76" y1="1234.70" x2="221.76" y2="1231.10" stroke="#262626" stroke-width="1.40" />
<line x1="283.99" y1="1234.70" x2="283.99" y2="1231.10" stroke="#262626" stroke-width="1.40" />
<line x1="346.21" y1="1234.70" x2="346.21" y2="1231.10" stroke="#262626" stroke-width="1.40" />
<line x1="408.44" y1="1234.70" x2="408.44" y2="1231.10" stroke="#262626" stroke-width="1.40" />
<line x1="470.67" y1="1234.70" x2="470.67" y2="1231.10" stroke="#262626" stroke-width="1.40" />
<line x1="136.20" y1="1234.70" x2="140.80" y2="1234.70" stroke="#262626" stroke-width="1.40" />
<line x1="494.00" y1="1234.70" x2="489.40" y2="1234.70" stroke="#262626" stroke-width="1.40" />
<line x1="136.20" y1="1106.85" x2="140.80" y2="1106.85" stroke="#262626" stroke-width="1.40" />
<line x1="494.00" y1="1106.85" x2="489.40" y2="1106.85" stroke="#262626" stroke-width="1.40" />
<line x1="136.20" y1="979.00" x2="140.80" y2="979.00" stroke="#262626" stroke-width="1.40" />
<line x1="494.00" y1="979.00" x2="489.40" y2="979.00" stroke="#262626" stroke-width="1.40" />
<rect x="147.09" y="979.00" width="24.89" height="255.70" fill="#0E7CDD" stroke="#000" stroke-width="1.9"/>
<rect x="178.20" y="1017.36" width="24.89" height="217.35" fill="#0E7CDD" stroke="#000" stroke-width="1.9"/>
<rect x="209.32" y="1030.14" width="24.89" height="204.56" fill="#0E7CDD" stroke="#000" stroke-width="1.9"/>
<rect x="240.43" y="1051.45" width="24.89" height="183.25" fill="#0E7CDD" stroke="#000" stroke-width="1.9"/>
<rect x="271.54" y="1077.02" width="24.89" height="157.68" fill="#0E7CDD" stroke="#000" stroke-width="1.9"/>
<rect x="302.65" y="1106.85" width="24.89" height="127.85" fill="#0E7CDD" stroke="#000" stroke-width="1.9"/>
<rect x="333.77" y="1136.68" width="24.89" height="98.02" fill="#0E7CDD" stroke="#000" stroke-width="1.9"/>
<rect x="364.88" y="1149.47" width="24.89" height="85.23" fill="#0E7CDD" stroke="#000" stroke-width="1.9"/>
<rect x="395.99" y="1153.73" width="24.89" height="80.97" fill="#0E7CDD" stroke="#000" stroke-width="1.9"/>
<rect x="427.11" y="1179.30" width="24.89" height="55.40" fill="#0E7CDD" stroke="#000" stroke-width="1.9"/>
<rect x="458.22" y="1213.39" width="24.89" height="21.31" fill="#0E7CDD" stroke="#000" stroke-width="1.9"/>
<line x1="299.54" y1="1234.70" x2="299.54" y2="1042.90" stroke="#000" stroke-width="3.10" stroke-dasharray="20.5 13.5" stroke-dashoffset="0.00"/>
<rect x="136.20" y="979.00" width="357.80" height="255.70" fill="none" stroke="#262626" stroke-width="1.7"/>
<line x1="621.55" y1="1234.70" x2="621.55" y2="1231.10" stroke="#262626" stroke-width="1.40" />
<line x1="683.81" y1="1234.70" x2="683.81" y2="1231.10" stroke="#262626" stroke-width="1.40" />
<line x1="746.07" y1="1234.70" x2="746.07" y2="1231.10" stroke="#262626" stroke-width="1.40" />
<line x1="808.33" y1="1234.70" x2="808.33" y2="1231.10" stroke="#262626" stroke-width="1.40" />
<line x1="870.59" y1="1234.70" x2="870.59" y2="1231.10" stroke="#262626" stroke-width="1.40" />
<line x1="932.85" y1="1234.70" x2="932.85" y2="1231.10" stroke="#262626" stroke-width="1.40" />
<line x1="598.20" y1="1234.70" x2="602.80" y2="1234.70" stroke="#262626" stroke-width="1.40" />
<line x1="956.20" y1="1234.70" x2="951.60" y2="1234.70" stroke="#262626" stroke-width="1.40" />
<line x1="598.20" y1="1106.85" x2="602.80" y2="1106.85" stroke="#262626" stroke-width="1.40" />
<line x1="956.20" y1="1106.85" x2="951.60" y2="1106.85" stroke="#262626" stroke-width="1.40" />
<line x1="598.20" y1="979.00" x2="602.80" y2="979.00" stroke="#262626" stroke-width="1.40" />
<line x1="956.20" y1="979.00" x2="951.60" y2="979.00" stroke="#262626" stroke-width="1.40" />
<rect x="609.10" y="979.00" width="24.90" height="255.70" fill="#D55E00" stroke="#000" stroke-width="1.9"/>
<rect x="640.23" y="1153.13" width="24.90" height="81.57" fill="#D55E00" stroke="#000" stroke-width="1.9"/>
<rect x="671.36" y="1193.79" width="24.90" height="40.91" fill="#D55E00" stroke="#000" stroke-width="1.9"/>
<rect x="702.49" y="1211.18" width="24.90" height="23.52" fill="#D55E00" stroke="#000" stroke-width="1.9"/>
<rect x="733.62" y="1217.57" width="24.90" height="17.13" fill="#D55E00" stroke="#000" stroke-width="1.9"/>
<rect x="764.75" y="1217.57" width="24.90" height="17.13" fill="#D55E00" stroke="#000" stroke-width="1.9"/>
<line x1="621.55" y1="1234.70" x2="621.55" y2="979.00" stroke="#000" stroke-width="2.60" stroke-dasharray="20.5 13.5" stroke-dashoffset="0.00"/>
<rect x="598.20" y="979.00" width="358.00" height="255.70" fill="none" stroke="#262626" stroke-width="1.7"/>
<text transform="translate(113.96,997.60) scale(0.2157,0.2900)" style='font-family:"Liberation Sans";font-size:100px;' fill="#000" >1</text>
<text x="74.18" y="1058.52" style='font-family:"Liberation Sans";font-size:29.00px;' fill="#000" >0.75</text>
<text x="90.30" y="1122.82" style='font-family:"Liberation Sans";font-size:29.00px;' fill="#000" >0.5</text>
<text x="74.18" y="1187.02" style='font-family:"Liberation Sans";font-size:29.00px;' fill="#000" >0.25</text>
<text x="114.40" y="1241.12" style='font-family:"Liberation Sans";font-size:29.00px;' fill="#000" >0</text>
<text transform="translate(152.45,1265.30) scale(0.2157,0.2900)" style='font-family:"Liberation Sans";font-size:100px;' fill="#000" >1</text>
<text x="213.03" y="1265.30" style='font-family:"Liberation Sans";font-size:29.00px;' fill="#000" >3</text>
<text x="275.23" y="1265.30" style='font-family:"Liberation Sans";font-size:29.00px;' fill="#000" >5</text>
<text x="337.45" y="1265.30" style='font-family:"Liberation Sans";font-size:29.00px;' fill="#000" >7</text>
<text x="399.73" y="1265.30" style='font-family:"Liberation Sans";font-size:29.00px;' fill="#000" >9</text>
<text transform="translate(456.76,1265.30) scale(0.2157,0.2900)" style='font-family:"Liberation Sans";font-size:100px;' fill="#000" >1</text>
<text transform="translate(470.76,1265.30) scale(0.2157,0.2900)" style='font-family:"Liberation Sans";font-size:100px;' fill="#000" >1</text>
<text x="296.02" y="1296.80" style='font-family:"Liberation Sans";font-size:36.50px;' fill="#000" >n</text>
<text transform="translate(575.96,997.60) scale(0.2157,0.2900)" style='font-family:"Liberation Sans";font-size:100px;' fill="#000" >1</text>
<text x="536.18" y="1058.52" style='font-family:"Liberation Sans";font-size:29.00px;' fill="#000" >0.75</text>
<text x="552.30" y="1122.82" style='font-family:"Liberation Sans";font-size:29.00px;' fill="#000" >0.5</text>
<text x="536.18" y="1187.02" style='font-family:"Liberation Sans";font-size:29.00px;' fill="#000" >0.25</text>
<text x="576.40" y="1241.12" style='font-family:"Liberation Sans";font-size:29.00px;' fill="#000" >0</text>
<text transform="translate(614.45,1265.30) scale(0.2157,0.2900)" style='font-family:"Liberation Sans";font-size:100px;' fill="#000" >1</text>
<text x="675.03" y="1265.30" style='font-family:"Liberation Sans";font-size:29.00px;' fill="#000" >3</text>
<text x="737.23" y="1265.30" style='font-family:"Liberation Sans";font-size:29.00px;' fill="#000" >5</text>
<text x="799.45" y="1265.30" style='font-family:"Liberation Sans";font-size:29.00px;' fill="#000" >7</text>
<text x="861.73" y="1265.30" style='font-family:"Liberation Sans";font-size:29.00px;' fill="#000" >9</text>
<text transform="translate(918.76,1265.30) scale(0.2157,0.2900)" style='font-family:"Liberation Sans";font-size:100px;' fill="#000" >1</text>
<text transform="translate(932.76,1265.30) scale(0.2157,0.2900)" style='font-family:"Liberation Sans";font-size:100px;' fill="#000" >1</text>
<text x="755.22" y="1296.80" style='font-family:"Liberation Sans";font-size:36.50px;' fill="#000" >n</text>
<text transform="translate(212.02,1015.30) scale(0.3595,0.2695)" style='font-family:"Liberation Serif";font-size:100px;font-style:italic;' fill="#000" >n</text>
<text transform="translate(229.29,1019.40) scale(0.2441,0.1960)" style='font-family:"Liberation Serif";font-size:100px;' fill="#000" >median, Co</text>
<text x="351.75" y="1020.10" style='font-family:"Liberation Sans";font-size:25.60px;' fill="#000" >= 5.5 sess.</text>
<text transform="translate(644.82,1023.40) scale(0.3595,0.2695)" style='font-family:"Liberation Serif";font-size:100px;font-style:italic;' fill="#000" >n</text>
<text transform="translate(661.88,1027.40) scale(0.2495,0.1960)" style='font-family:"Liberation Serif";font-size:100px;' fill="#000" >median, Ip</text>
<text x="774.45" y="1026.40" style='font-family:"Liberation Sans";font-size:25.60px;' fill="#000" >= 1 sess.</text>
<text transform="translate(-0.78,1336.10) scale(0.4090,0.4955)" style='font-family:"Liberation Sans";font-size:100px;' fill="#000" >C</text>
<text x="103.89" y="1362.90" style='font-family:"Liberation Sans";font-size:39.00px;font-weight:bold;' fill="#000" >P(# of sessions a channel in area is active</text>
<path d="M889.30 1336.10 L913.00 1347.00 L889.30 1357.80 M889.30 1365.00 L913.00 1365.00" fill="none" stroke="#000" stroke-width="1.60" stroke-linecap="round" stroke-linejoin="miter"/>
<text x="924.93" y="1362.90" style='font-family:"Liberation Sans";font-size:39.00px;font-weight:bold;' fill="#000" >n)</text>
<text transform="translate(277.53,1403.20) scale(0.3237,0.3765)" style='font-family:"Liberation Sans";font-size:100px;font-weight:bold;' fill="#000" >M1</text>
<text transform="translate(744.70,1403.20) scale(0.3120,0.3666)" style='font-family:"Liberation Sans";font-size:100px;font-weight:bold;' fill="#000" >S1</text>
<line x1="159.72" y1="1672.60" x2="159.72" y2="1669.00" stroke="#262626" stroke-width="1.40" />
<line x1="221.91" y1="1672.60" x2="221.91" y2="1669.00" stroke="#262626" stroke-width="1.40" />
<line x1="284.10" y1="1672.60" x2="284.10" y2="1669.00" stroke="#262626" stroke-width="1.40" />
<line x1="346.30" y1="1672.60" x2="346.30" y2="1669.00" stroke="#262626" stroke-width="1.40" />
<line x1="408.49" y1="1672.60" x2="408.49" y2="1669.00" stroke="#262626" stroke-width="1.40" />
<line x1="470.68" y1="1672.60" x2="470.68" y2="1669.00" stroke="#262626" stroke-width="1.40" />
<line x1="136.40" y1="1672.60" x2="141.00" y2="1672.60" stroke="#262626" stroke-width="1.40" />
<line x1="494.00" y1="1672.60" x2="489.40" y2="1672.60" stroke="#262626" stroke-width="1.40" />
<line x1="136.40" y1="1544.75" x2="141.00" y2="1544.75" stroke="#262626" stroke-width="1.40" />
<line x1="494.00" y1="1544.75" x2="489.40" y2="1544.75" stroke="#262626" stroke-width="1.40" />
<line x1="136.40" y1="1416.90" x2="141.00" y2="1416.90" stroke="#262626" stroke-width="1.40" />
<line x1="494.00" y1="1416.90" x2="489.40" y2="1416.90" stroke="#262626" stroke-width="1.40" />
<rect x="147.28" y="1416.90" width="24.88" height="255.70" fill="#009E73" stroke="#000" stroke-width="1.9"/>
<rect x="178.38" y="1514.83" width="24.88" height="157.77" fill="#009E73" stroke="#000" stroke-width="1.9"/>
<rect x="209.47" y="1544.75" width="24.88" height="127.85" fill="#009E73" stroke="#000" stroke-width="1.9"/>
<rect x="240.57" y="1574.67" width="24.88" height="97.93" fill="#009E73" stroke="#000" stroke-width="1.9"/>
<rect x="271.67" y="1595.89" width="24.88" height="76.71" fill="#009E73" stroke="#000" stroke-width="1.9"/>
<rect x="302.76" y="1608.67" width="24.88" height="63.92" fill="#009E73" stroke="#000" stroke-width="1.9"/>
<rect x="333.86" y="1634.24" width="24.88" height="38.36" fill="#009E73" stroke="#000" stroke-width="1.9"/>
<rect x="364.95" y="1638.59" width="24.88" height="34.01" fill="#009E73" stroke="#000" stroke-width="1.9"/>
<rect x="396.05" y="1638.59" width="24.88" height="34.01" fill="#009E73" stroke="#000" stroke-width="1.9"/>
<rect x="427.14" y="1651.38" width="24.88" height="21.22" fill="#009E73" stroke="#000" stroke-width="1.9"/>
<rect x="458.24" y="1664.16" width="24.88" height="8.44" fill="#009E73" stroke="#000" stroke-width="1.9"/>
<line x1="206.37" y1="1672.60" x2="206.37" y2="1466.00" stroke="#000" stroke-width="3.10" stroke-dasharray="20.5 13.5" stroke-dashoffset="0.00"/>
<rect x="136.40" y="1416.90" width="357.60" height="255.70" fill="none" stroke="#262626" stroke-width="1.7"/>
<line x1="621.55" y1="1672.70" x2="621.55" y2="1669.10" stroke="#262626" stroke-width="1.40" />
<line x1="683.81" y1="1672.70" x2="683.81" y2="1669.10" stroke="#262626" stroke-width="1.40" />
<line x1="746.07" y1="1672.70" x2="746.07" y2="1669.10" stroke="#262626" stroke-width="1.40" />
<line x1="808.33" y1="1672.70" x2="808.33" y2="1669.10" stroke="#262626" stroke-width="1.40" />
<line x1="870.59" y1="1672.70" x2="870.59" y2="1669.10" stroke="#262626" stroke-width="1.40" />
<line x1="932.85" y1="1672.70" x2="932.85" y2="1669.10" stroke="#262626" stroke-width="1.40" />
<line x1="598.20" y1="1672.70" x2="602.80" y2="1672.70" stroke="#262626" stroke-width="1.40" />
<line x1="956.20" y1="1672.70" x2="951.60" y2="1672.70" stroke="#262626" stroke-width="1.40" />
<line x1="598.20" y1="1544.55" x2="602.80" y2="1544.55" stroke="#262626" stroke-width="1.40" />
<line x1="956.20" y1="1544.55" x2="951.60" y2="1544.55" stroke="#262626" stroke-width="1.40" />
<line x1="598.20" y1="1416.40" x2="602.80" y2="1416.40" stroke="#262626" stroke-width="1.40" />
<line x1="956.20" y1="1416.40" x2="951.60" y2="1416.40" stroke="#262626" stroke-width="1.40" />
<rect x="609.10" y="1416.40" width="24.90" height="256.30" fill="#F0E442" stroke="#000" stroke-width="1.9"/>
<rect x="640.23" y="1510.46" width="24.90" height="162.24" fill="#F0E442" stroke="#000" stroke-width="1.9"/>
<rect x="671.36" y="1527.38" width="24.90" height="145.32" fill="#F0E442" stroke="#000" stroke-width="1.9"/>
<rect x="702.49" y="1533.79" width="24.90" height="138.91" fill="#F0E442" stroke="#000" stroke-width="1.9"/>
<rect x="733.62" y="1544.55" width="24.90" height="128.15" fill="#F0E442" stroke="#000" stroke-width="1.9"/>
<rect x="764.75" y="1568.13" width="24.90" height="104.57" fill="#F0E442" stroke="#000" stroke-width="1.9"/>
<rect x="795.88" y="1591.45" width="24.90" height="81.25" fill="#F0E442" stroke="#000" stroke-width="1.9"/>
<rect x="827.01" y="1602.22" width="24.90" height="70.48" fill="#F0E442" stroke="#000" stroke-width="1.9"/>
<rect x="858.14" y="1608.62" width="24.90" height="64.08" fill="#F0E442" stroke="#000" stroke-width="1.9"/>
<rect x="889.27" y="1625.80" width="24.90" height="46.90" fill="#F0E442" stroke="#000" stroke-width="1.9"/>
<rect x="920.40" y="1655.53" width="24.90" height="17.17" fill="#F0E442" stroke="#000" stroke-width="1.9"/>
<line x1="730.50" y1="1672.70" x2="730.50" y2="1494.60" stroke="#000" stroke-width="3.10" stroke-dasharray="20.5 13.5" stroke-dashoffset="0.00"/>
<rect x="598.20" y="1416.40" width="358.00" height="256.30" fill="none" stroke="#262626" stroke-width="1.7"/>
<text transform="translate(112.96,1430.90) scale(0.2157,0.2900)" style='font-family:"Liberation Sans";font-size:100px;' fill="#000" >1</text>
<text x="73.18" y="1491.82" style='font-family:"Liberation Sans";font-size:29.00px;' fill="#000" >0.75</text>
<text x="89.30" y="1556.12" style='font-family:"Liberation Sans";font-size:29.00px;' fill="#000" >0.5</text>
<text x="73.18" y="1620.32" style='font-family:"Liberation Sans";font-size:29.00px;' fill="#000" >0.25</text>
<text x="113.40" y="1674.42" style='font-family:"Liberation Sans";font-size:29.00px;' fill="#000" >0</text>
<text transform="translate(152.65,1702.30) scale(0.2157,0.2900)" style='font-family:"Liberation Sans";font-size:100px;' fill="#000" >1</text>
<text x="213.23" y="1702.30" style='font-family:"Liberation Sans";font-size:29.00px;' fill="#000" >3</text>
<text x="275.43" y="1702.30" style='font-family:"Liberation Sans";font-size:29.00px;' fill="#000" >5</text>
<text x="337.65" y="1702.30" style='font-family:"Liberation Sans";font-size:29.00px;' fill="#000" >7</text>
<text x="399.93" y="1702.30" style='font-family:"Liberation Sans";font-size:29.00px;' fill="#000" >9</text>
<text transform="translate(456.96,1702.30) scale(0.2157,0.2900)" style='font-family:"Liberation Sans";font-size:100px;' fill="#000" >1</text>
<text transform="translate(470.96,1702.30) scale(0.2157,0.2900)" style='font-family:"Liberation Sans";font-size:100px;' fill="#000" >1</text>
<text x="294.82" y="1741.40" style='font-family:"Liberation Sans";font-size:36.50px;' fill="#000" >n</text>
<text transform="translate(575.96,1430.90) scale(0.2157,0.2900)" style='font-family:"Liberation Sans";font-size:100px;' fill="#000" >1</text>
<text x="536.18" y="1491.82" style='font-family:"Liberation Sans";font-size:29.00px;' fill="#000" >0.75</text>
<text x="552.30" y="1556.12" style='font-family:"Liberation Sans";font-size:29.00px;' fill="#000" >0.5</text>
<text x="536.18" y="1620.32" style='font-family:"Liberation Sans";font-size:29.00px;' fill="#000" >0.25</text>
<text x="576.40" y="1674.42" style='font-family:"Liberation Sans";font-size:29.00px;' fill="#000" >0</text>
<text transform="translate(614.45,1702.30) scale(0.2157,0.2900)" style='font-family:"Liberation Sans";font-size:100px;' fill="#000" >1</text>
<text x="675.03" y="1702.30" style='font-family:"Liberation Sans";font-size:29.00px;' fill="#000" >3</text>
<text x="737.23" y="1702.30" style='font-family:"Liberation Sans";font-size:29.00px;' fill="#000" >5</text>
<text x="799.45" y="1702.30" style='font-family:"Liberation Sans";font-size:29.00px;' fill="#000" >7</text>
<text x="861.73" y="1702.30" style='font-family:"Liberation Sans";font-size:29.00px;' fill="#000" >9</text>
<text transform="translate(918.76,1702.30) scale(0.2157,0.2900)" style='font-family:"Liberation Sans";font-size:100px;' fill="#000" >1</text>
<text transform="translate(932.76,1702.30) scale(0.2157,0.2900)" style='font-family:"Liberation Sans";font-size:100px;' fill="#000" >1</text>
<text x="754.22" y="1741.40" style='font-family:"Liberation Sans";font-size:36.50px;' fill="#000" >n</text>
<text transform="translate(187.02,1461.30) scale(0.3595,0.2695)" style='font-family:"Liberation Serif";font-size:100px;font-style:italic;' fill="#000" >n</text>
<text transform="translate(205.09,1465.60) scale(0.2406,0.1888)" style='font-family:"Liberation Serif";font-size:100px;' fill="#000" >median, M1</text>
<text x="322.85" y="1462.70" style='font-family:"Liberation Sans";font-size:25.60px;' fill="#000" >= 2.5 sess.</text>
<text transform="translate(700.12,1477.00) scale(0.3595,0.2695)" style='font-family:"Liberation Serif";font-size:100px;font-style:italic;' fill="#000" >n</text>
<text transform="translate(718.09,1480.90) scale(0.2406,0.1758)" style='font-family:"Liberation Serif";font-size:100px;' fill="#000" >median, S1</text>
<text x="828.65" y="1480.20" style='font-family:"Liberation Sans";font-size:25.60px;' fill="#000" >= 4.5 sess.</text>
<text transform="translate(-0.57,1778.20) scale(0.4719,0.4840)" style='font-family:"Liberation Sans";font-size:100px;' fill="#000" >D</text>
<text transform="translate(537.35,1778.40) scale(0.3469,0.4869)" style='font-family:"Liberation Sans";font-size:100px;' fill="#000" >E</text>
<text transform="translate(180.61,1798.90) scale(0.3567,0.3367)" style='font-family:"Liberation Sans";font-size:100px;font-weight:bold;' fill="#000" >By Hemisphere</text>
<text transform="translate(702.56,1799.50) scale(0.3503,0.3736)" style='font-family:"Liberation Sans";font-size:100px;font-weight:bold;' fill="#000" >By Area</text>
<g transform="translate(78.90,2097.80) rotate(-90)"><text transform="translate(-0.79,0) scale(0.3522)" style='font-family:"Liberation Sans";font-size:100px;' fill="#000">Tot. sessions active</text></g>
<g transform="translate(1154.20,269.10) rotate(90)"><text transform="translate(-1.27,0) scale(0.3555)" style='font-family:"Liberation Sans";font-size:100px;' fill="#000">% sessions (days) active</text></g>
<text transform="translate(180.46,2096.70) scale(0.2826,0.2879)" style='font-family:"Liberation Sans";font-size:100px;' fill="#000" >Contra</text>
<text transform="translate(378.34,2096.70) scale(0.2886,0.2774)" style='font-family:"Liberation Sans";font-size:100px;' fill="#000" >Ipsi</text>
<text transform="translate(647.93,2096.80) scale(0.2893,0.2951)" style='font-family:"Liberation Sans";font-size:100px;' fill="#000" >Motor</text>
<text transform="translate(816.22,2096.80) scale(0.2820,0.2907)" style='font-family:"Liberation Sans";font-size:100px;' fill="#000" >Sensory</text>
<text transform="translate(98.06,1825.58) scale(0.2157,0.2900)" style='font-family:"Liberation Sans";font-size:100px;' fill="#000" >1</text>
<text transform="translate(112.06,1825.58) scale(0.2157,0.2900)" style='font-family:"Liberation Sans";font-size:100px;' fill="#000" >1</text>
<text x="112.85" y="1873.66" style='font-family:"Liberation Sans";font-size:29.00px;' fill="#000" >9</text>
<text x="112.93" y="1924.44" style='font-family:"Liberation Sans";font-size:29.00px;' fill="#000" >7</text>
<text x="112.69" y="1975.07" style='font-family:"Liberation Sans";font-size:29.00px;' fill="#000" >5</text>
<text x="112.75" y="2026.00" style='font-family:"Liberation Sans";font-size:29.00px;' fill="#000" >3</text>
<text transform="translate(112.06,2075.98) scale(0.2157,0.2900)" style='font-family:"Liberation Sans";font-size:100px;' fill="#000" >1</text>
<text transform="translate(561.86,1824.78) scale(0.2157,0.2900)" style='font-family:"Liberation Sans";font-size:100px;' fill="#000" >1</text>
<text transform="translate(575.86,1824.78) scale(0.2157,0.2900)" style='font-family:"Liberation Sans";font-size:100px;' fill="#000" >1</text>
<text x="576.65" y="1872.98" style='font-family:"Liberation Sans";font-size:29.00px;' fill="#000" >9</text>
<text x="576.73" y="1923.88" style='font-family:"Liberation Sans";font-size:29.00px;' fill="#000" >7</text>
<text x="576.49" y="1974.63" style='font-family:"Liberation Sans";font-size:29.00px;' fill="#000" >5</text>
<text x="576.55" y="2025.68" style='font-family:"Liberation Sans";font-size:29.00px;' fill="#000" >3</text>
<text transform="translate(575.86,2075.78) scale(0.2157,0.2900)" style='font-family:"Liberation Sans";font-size:100px;' fill="#000" >1</text>
<text transform="translate(250.94,1940.30) scale(0.3524,0.2717)" style='font-family:"Liberation Serif";font-size:100px;font-style:italic;' fill="#000" >n</text>
<text transform="translate(267.99,1945.10) scale(0.2439,0.2061)" style='font-family:"Liberation Serif";font-size:100px;' fill="#000" >median, Co</text>
<text transform="translate(268.89,2031.70) scale(0.3666,0.2738)" style='font-family:"Liberation Serif";font-size:100px;font-style:italic;' fill="#000" >n</text>
<text transform="translate(286.58,2035.70) scale(0.2490,0.1902)" style='font-family:"Liberation Serif";font-size:100px;' fill="#000" >median, Ip</text>
<text transform="translate(706.30,1966.70) scale(0.3358,0.2653)" style='font-family:"Liberation Serif";font-size:100px;font-style:italic;' fill="#000" >n</text>
<text transform="translate(723.19,1970.70) scale(0.2406,0.1845)" style='font-family:"Liberation Serif";font-size:100px;' fill="#000" >median, S1</text>
<text transform="translate(714.14,2016.70) scale(0.3524,0.2589)" style='font-family:"Liberation Serif";font-size:100px;font-style:italic;' fill="#000" >n</text>
<text transform="translate(731.19,2020.70) scale(0.2410,0.1902)" style='font-family:"Liberation Serif";font-size:100px;' fill="#000" >median, M1</text>
<line x1="136.20" y1="2041.81" x2="143.00" y2="2041.81" stroke="#262626" stroke-width="1.50" />
<line x1="598.00" y1="2041.55" x2="604.80" y2="2041.55" stroke="#262626" stroke-width="1.50" />
<line x1="136.20" y1="2016.42" x2="143.00" y2="2016.42" stroke="#262626" stroke-width="1.50" />
<line x1="598.00" y1="2016.10" x2="604.80" y2="2016.10" stroke="#262626" stroke-width="1.50" />
<line x1="136.20" y1="1991.03" x2="143.00" y2="1991.03" stroke="#262626" stroke-width="1.50" />
<line x1="598.00" y1="1990.65" x2="604.80" y2="1990.65" stroke="#262626" stroke-width="1.50" />
<line x1="136.20" y1="1965.64" x2="143.00" y2="1965.64" stroke="#262626" stroke-width="1.50" />
<line x1="598.00" y1="1965.20" x2="604.80" y2="1965.20" stroke="#262626" stroke-width="1.50" />
<line x1="136.20" y1="1940.25" x2="143.00" y2="1940.25" stroke="#262626" stroke-width="1.50" />
<line x1="598.00" y1="1939.75" x2="604.80" y2="1939.75" stroke="#262626" stroke-width="1.50" />
<line x1="136.20" y1="1914.86" x2="143.00" y2="1914.86" stroke="#262626" stroke-width="1.50" />
<line x1="598.00" y1="1914.30" x2="604.80" y2="1914.30" stroke="#262626" stroke-width="1.50" />
<line x1="136.20" y1="1889.47" x2="143.00" y2="1889.47" stroke="#262626" stroke-width="1.50" />
<line x1="598.00" y1="1888.85" x2="604.80" y2="1888.85" stroke="#262626" stroke-width="1.50" />
<line x1="136.20" y1="1864.08" x2="143.00" y2="1864.08" stroke="#262626" stroke-width="1.50" />
<line x1="598.00" y1="1863.40" x2="604.80" y2="1863.40" stroke="#262626" stroke-width="1.50" />
<line x1="136.20" y1="1838.69" x2="143.00" y2="1838.69" stroke="#262626" stroke-width="1.50" />
<line x1="598.00" y1="1837.95" x2="604.80" y2="1837.95" stroke="#262626" stroke-width="1.50" />
<path d="M260.00,1813.30 L260.29,1815.43 L260.59,1817.57 L260.89,1819.70 L261.20,1821.83 L261.52,1823.97 L261.84,1826.10 L262.17,1828.24 L262.51,1830.37 L262.85,1832.50 L263.20,1834.64 L263.55,1836.77 L263.91,1838.90 L264.28,1841.04 L264.67,1843.17 L265.07,1845.30 L265.49,1847.44 L265.91,1849.57 L266.34,1851.71 L266.78,1853.84 L267.20,1855.97 L267.63,1858.11 L268.04,1860.24 L268.44,1862.37 L268.82,1864.51 L269.18,1866.64 L269.53,1868.77 L269.87,1870.91 L270.21,1873.04 L270.54,1875.17 L270.87,1877.31 L271.19,1879.44 L271.50,1881.58 L271.81,1883.71 L272.12,1885.84 L272.42,1887.98 L272.72,1890.11 L273.01,1892.24 L273.31,1894.38 L273.60,1896.51 L273.89,1898.64 L274.18,1900.78 L274.46,1902.91 L274.74,1905.05 L275.00,1907.18 L275.26,1909.31 L275.51,1911.45 L275.75,1913.58 L275.97,1915.71 L276.19,1917.85 L276.39,1919.98 L276.59,1922.11 L276.79,1924.25 L276.97,1926.38 L277.16,1928.52 L277.33,1930.65 L277.51,1932.78 L277.68,1934.92 L277.86,1937.05 L278.03,1939.18 L278.21,1941.32 L278.39,1943.45 L278.57,1945.58 L278.75,1947.72 L278.92,1949.85 L279.08,1951.98 L279.22,1954.12 L279.35,1956.25 L279.49,1958.39 L279.62,1960.52 L279.74,1962.65 L279.84,1964.79 L279.89,1966.92 L279.90,1969.05 L279.88,1971.19 L279.86,1973.32 L279.82,1975.45 L279.78,1977.59 L279.73,1979.72 L279.67,1981.86 L279.57,1983.99 L279.41,1986.12 L279.20,1988.26 L278.96,1990.39 L278.68,1992.52 L278.37,1994.66 L278.04,1996.79 L277.70,1998.92 L277.34,2001.06 L276.97,2003.19 L276.61,2005.33 L276.25,2007.46 L275.84,2009.59 L275.40,2011.73 L274.93,2013.86 L274.43,2015.99 L273.90,2018.13 L273.36,2020.26 L272.80,2022.39 L272.23,2024.53 L271.65,2026.66 L271.07,2028.79 L270.49,2030.93 L269.90,2033.06 L269.23,2035.20 L268.50,2037.33 L267.73,2039.46 L266.97,2041.60 L266.25,2043.73 L265.59,2045.86 L265.04,2048.00 L264.62,2050.13 L264.34,2052.26 L264.09,2054.40 L263.85,2056.53 L263.64,2058.67 L263.46,2060.80 L263.32,2062.93 L263.23,2065.07 L263.20,2067.20 L188.20,2067.20 L188.17,2065.07 L188.08,2062.93 L187.94,2060.80 L187.76,2058.67 L187.55,2056.53 L187.31,2054.40 L187.06,2052.26 L186.78,2050.13 L186.36,2048.00 L185.81,2045.86 L185.15,2043.73 L184.43,2041.60 L183.67,2039.46 L182.90,2037.33 L182.17,2035.20 L181.50,2033.06 L180.91,2030.93 L180.33,2028.79 L179.75,2026.66 L179.17,2024.53 L178.60,2022.39 L178.04,2020.26 L177.50,2018.13 L176.97,2015.99 L176.47,2013.86 L176.00,2011.73 L175.56,2009.59 L175.15,2007.46 L174.79,2005.33 L174.43,2003.19 L174.06,2001.06 L173.70,1998.92 L173.36,1996.79 L173.03,1994.66 L172.72,1992.52 L172.44,1990.39 L172.20,1988.26 L171.99,1986.12 L171.83,1983.99 L171.73,1981.86 L171.67,1979.72 L171.62,1977.59 L171.58,1975.45 L171.54,1973.32 L171.52,1971.19 L171.50,1969.05 L171.51,1966.92 L171.56,1964.79 L171.66,1962.65 L171.78,1960.52 L171.91,1958.39 L172.05,1956.25 L172.18,1954.12 L172.32,1951.98 L172.48,1949.85 L172.65,1947.72 L172.83,1945.58 L173.01,1943.45 L173.19,1941.32 L173.37,1939.18 L173.54,1937.05 L173.72,1934.92 L173.89,1932.78 L174.07,1930.65 L174.24,1928.52 L174.43,1926.38 L174.61,1924.25 L174.81,1922.11 L175.01,1919.98 L175.21,1917.85 L175.43,1915.71 L175.65,1913.58 L175.89,1911.45 L176.14,1909.31 L176.40,1907.18 L176.66,1905.05 L176.94,1902.91 L177.22,1900.78 L177.51,1898.64 L177.80,1896.51 L178.09,1894.38 L178.39,1892.24 L178.68,1890.11 L178.98,1887.98 L179.28,1885.84 L179.59,1883.71 L179.90,1881.58 L180.21,1879.44 L180.53,1877.31 L180.86,1875.17 L181.19,1873.04 L181.53,1870.91 L181.87,1868.77 L182.22,1866.64 L182.58,1864.51 L182.96,1862.37 L183.36,1860.24 L183.77,1858.11 L184.20,1855.97 L184.62,1853.84 L185.06,1851.71 L185.49,1849.57 L185.91,1847.44 L186.33,1845.30 L186.73,1843.17 L187.12,1841.04 L187.49,1838.90 L187.85,1836.77 L188.20,1834.64 L188.55,1832.50 L188.89,1830.37 L189.23,1828.24 L189.56,1826.10 L189.88,1823.97 L190.20,1821.83 L190.51,1819.70 L190.81,1817.57 L191.11,1815.43 L191.40,1813.30 Z" fill="#0E7CDD" fill-opacity="0.3" stroke="none"/>
<ellipse cx="209.00" cy="1816.00" rx="7.30" ry="2.90" fill="#0E7CDD" fill-opacity="0.42"/>
<ellipse cx="232.60" cy="1816.00" rx="7.30" ry="2.90" fill="#0E7CDD" fill-opacity="0.42"/>
<ellipse cx="247.80" cy="1816.00" rx="7.30" ry="2.90" fill="#0E7CDD" fill-opacity="0.42"/>
<ellipse cx="192.60" cy="1839.00" rx="7.30" ry="2.90" fill="#0E7CDD" fill-opacity="0.42"/>
<ellipse cx="205.00" cy="1839.00" rx="7.30" ry="2.90" fill="#0E7CDD" fill-opacity="0.42"/>
<ellipse cx="209.70" cy="1839.00" rx="7.30" ry="2.90" fill="#0E7CDD" fill-opacity="0.42"/>
<ellipse cx="219.00" cy="1839.00" rx="7.30" ry="2.90" fill="#0E7CDD" fill-opacity="0.42"/>
<ellipse cx="224.00" cy="1839.00" rx="7.30" ry="2.90" fill="#0E7CDD" fill-opacity="0.42"/>
<ellipse cx="252.90" cy="1839.00" rx="7.30" ry="2.90" fill="#0E7CDD" fill-opacity="0.42"/>
<ellipse cx="258.00" cy="1839.00" rx="7.30" ry="2.90" fill="#0E7CDD" fill-opacity="0.42"/>
<ellipse cx="189.40" cy="1864.00" rx="7.30" ry="2.90" fill="#0E7CDD" fill-opacity="0.42"/>
<ellipse cx="193.80" cy="1864.00" rx="7.30" ry="2.90" fill="#0E7CDD" fill-opacity="0.42"/>
<ellipse cx="197.00" cy="1864.00" rx="7.30" ry="2.90" fill="#0E7CDD" fill-opacity="0.42"/>
<ellipse cx="216.70" cy="1864.00" rx="7.30" ry="2.90" fill="#0E7CDD" fill-opacity="0.42"/>
<ellipse cx="226.00" cy="1864.00" rx="7.30" ry="2.90" fill="#0E7CDD" fill-opacity="0.42"/>
<ellipse cx="229.00" cy="1864.00" rx="7.30" ry="2.90" fill="#0E7CDD" fill-opacity="0.42"/>
<ellipse cx="247.80" cy="1864.00" rx="7.30" ry="2.90" fill="#0E7CDD" fill-opacity="0.42"/>
<ellipse cx="267.50" cy="1864.00" rx="7.30" ry="2.90" fill="#0E7CDD" fill-opacity="0.42"/>
<ellipse cx="244.60" cy="1889.50" rx="7.30" ry="2.90" fill="#0E7CDD" fill-opacity="0.42"/>
<ellipse cx="226.20" cy="1915.00" rx="7.30" ry="2.90" fill="#0E7CDD" fill-opacity="0.42"/>
<ellipse cx="231.30" cy="1915.00" rx="7.30" ry="2.90" fill="#0E7CDD" fill-opacity="0.42"/>
<ellipse cx="248.40" cy="1915.00" rx="7.30" ry="2.90" fill="#0E7CDD" fill-opacity="0.42"/>
<ellipse cx="183.00" cy="1940.30" rx="7.30" ry="2.90" fill="#0E7CDD" fill-opacity="0.42"/>
<ellipse cx="201.40" cy="1940.30" rx="7.30" ry="2.90" fill="#0E7CDD" fill-opacity="0.42"/>
<ellipse cx="237.60" cy="1940.30" rx="7.30" ry="2.90" fill="#0E7CDD" fill-opacity="0.42"/>
<ellipse cx="246.50" cy="1940.30" rx="7.30" ry="2.90" fill="#0E7CDD" fill-opacity="0.42"/>
<ellipse cx="258.00" cy="1940.30" rx="7.30" ry="2.90" fill="#0E7CDD" fill-opacity="0.42"/>
<ellipse cx="261.80" cy="1940.30" rx="7.30" ry="2.90" fill="#0E7CDD" fill-opacity="0.42"/>
<ellipse cx="172.20" cy="1966.00" rx="7.30" ry="2.90" fill="#0E7CDD" fill-opacity="0.42"/>
<ellipse cx="179.20" cy="1966.00" rx="7.30" ry="2.90" fill="#0E7CDD" fill-opacity="0.42"/>
<ellipse cx="226.20" cy="1966.00" rx="7.30" ry="2.90" fill="#0E7CDD" fill-opacity="0.42"/>
<ellipse cx="232.60" cy="1966.00" rx="7.30" ry="2.90" fill="#0E7CDD" fill-opacity="0.42"/>
<ellipse cx="276.40" cy="1966.00" rx="7.30" ry="2.90" fill="#0E7CDD" fill-opacity="0.42"/>
<ellipse cx="278.30" cy="1966.00" rx="7.30" ry="2.90" fill="#0E7CDD" fill-opacity="0.42"/>
<ellipse cx="182.40" cy="1991.30" rx="7.30" ry="2.90" fill="#0E7CDD" fill-opacity="0.42"/>
<ellipse cx="205.90" cy="1991.30" rx="7.30" ry="2.90" fill="#0E7CDD" fill-opacity="0.42"/>
<ellipse cx="209.70" cy="1991.30" rx="7.30" ry="2.90" fill="#0E7CDD" fill-opacity="0.42"/>
<ellipse cx="215.40" cy="1991.30" rx="7.30" ry="2.90" fill="#0E7CDD" fill-opacity="0.42"/>
<ellipse cx="219.20" cy="1991.30" rx="7.30" ry="2.90" fill="#0E7CDD" fill-opacity="0.42"/>
<ellipse cx="239.50" cy="1991.30" rx="7.30" ry="2.90" fill="#0E7CDD" fill-opacity="0.42"/>
<ellipse cx="246.50" cy="1991.30" rx="7.30" ry="2.90" fill="#0E7CDD" fill-opacity="0.42"/>
<ellipse cx="252.90" cy="1991.30" rx="7.30" ry="2.90" fill="#0E7CDD" fill-opacity="0.42"/>
<ellipse cx="202.10" cy="2016.80" rx="7.30" ry="2.90" fill="#0E7CDD" fill-opacity="0.42"/>
<ellipse cx="204.00" cy="2016.80" rx="7.30" ry="2.90" fill="#0E7CDD" fill-opacity="0.42"/>
<ellipse cx="220.50" cy="2016.80" rx="7.30" ry="2.90" fill="#0E7CDD" fill-opacity="0.42"/>
<ellipse cx="237.60" cy="2016.80" rx="7.30" ry="2.90" fill="#0E7CDD" fill-opacity="0.42"/>
<ellipse cx="261.10" cy="2016.80" rx="7.30" ry="2.90" fill="#0E7CDD" fill-opacity="0.42"/>
<ellipse cx="193.20" cy="2041.80" rx="7.30" ry="2.90" fill="#0E7CDD" fill-opacity="0.42"/>
<ellipse cx="225.60" cy="2041.80" rx="7.30" ry="2.90" fill="#0E7CDD" fill-opacity="0.42"/>
<ellipse cx="263.00" cy="2041.80" rx="7.30" ry="2.90" fill="#0E7CDD" fill-opacity="0.42"/>
<ellipse cx="196.00" cy="2066.00" rx="7.30" ry="2.90" fill="#0E7CDD" fill-opacity="0.42"/>
<ellipse cx="200.00" cy="2066.00" rx="7.30" ry="2.90" fill="#0E7CDD" fill-opacity="0.42"/>
<ellipse cx="205.00" cy="2066.00" rx="7.30" ry="2.90" fill="#0E7CDD" fill-opacity="0.42"/>
<ellipse cx="210.00" cy="2066.00" rx="7.30" ry="2.90" fill="#0E7CDD" fill-opacity="0.42"/>
<ellipse cx="218.00" cy="2066.00" rx="7.30" ry="2.90" fill="#0E7CDD" fill-opacity="0.42"/>
<ellipse cx="225.00" cy="2066.00" rx="7.30" ry="2.90" fill="#0E7CDD" fill-opacity="0.42"/>
<ellipse cx="232.00" cy="2066.00" rx="7.30" ry="2.90" fill="#0E7CDD" fill-opacity="0.42"/>
<path d="M260.00,1813.30 L260.29,1815.43 L260.59,1817.57 L260.89,1819.70 L261.20,1821.83 L261.52,1823.97 L261.84,1826.10 L262.17,1828.24 L262.51,1830.37 L262.85,1832.50 L263.20,1834.64 L263.55,1836.77 L263.91,1838.90 L264.28,1841.04 L264.67,1843.17 L265.07,1845.30 L265.49,1847.44 L265.91,1849.57 L266.34,1851.71 L266.78,1853.84 L267.20,1855.97 L267.63,1858.11 L268.04,1860.24 L268.44,1862.37 L268.82,1864.51 L269.18,1866.64 L269.53,1868.77 L269.87,1870.91 L270.21,1873.04 L270.54,1875.17 L270.87,1877.31 L271.19,1879.44 L271.50,1881.58 L271.81,1883.71 L272.12,1885.84 L272.42,1887.98 L272.72,1890.11 L273.01,1892.24 L273.31,1894.38 L273.60,1896.51 L273.89,1898.64 L274.18,1900.78 L274.46,1902.91 L274.74,1905.05 L275.00,1907.18 L275.26,1909.31 L275.51,1911.45 L275.75,1913.58 L275.97,1915.71 L276.19,1917.85 L276.39,1919.98 L276.59,1922.11 L276.79,1924.25 L276.97,1926.38 L277.16,1928.52 L277.33,1930.65 L277.51,1932.78 L277.68,1934.92 L277.86,1937.05 L278.03,1939.18 L278.21,1941.32 L278.39,1943.45 L278.57,1945.58 L278.75,1947.72 L278.92,1949.85 L279.08,1951.98 L279.22,1954.12 L279.35,1956.25 L279.49,1958.39 L279.62,1960.52 L279.74,1962.65 L279.84,1964.79 L279.89,1966.92 L279.90,1969.05 L279.88,1971.19 L279.86,1973.32 L279.82,1975.45 L279.78,1977.59 L279.73,1979.72 L279.67,1981.86 L279.57,1983.99 L279.41,1986.12 L279.20,1988.26 L278.96,1990.39 L278.68,1992.52 L278.37,1994.66 L278.04,1996.79 L277.70,1998.92 L277.34,2001.06 L276.97,2003.19 L276.61,2005.33 L276.25,2007.46 L275.84,2009.59 L275.40,2011.73 L274.93,2013.86 L274.43,2015.99 L273.90,2018.13 L273.36,2020.26 L272.80,2022.39 L272.23,2024.53 L271.65,2026.66 L271.07,2028.79 L270.49,2030.93 L269.90,2033.06 L269.23,2035.20 L268.50,2037.33 L267.73,2039.46 L266.97,2041.60 L266.25,2043.73 L265.59,2045.86 L265.04,2048.00 L264.62,2050.13 L264.34,2052.26 L264.09,2054.40 L263.85,2056.53 L263.64,2058.67 L263.46,2060.80 L263.32,2062.93 L263.23,2065.07 L263.20,2067.20 L188.20,2067.20 L188.17,2065.07 L188.08,2062.93 L187.94,2060.80 L187.76,2058.67 L187.55,2056.53 L187.31,2054.40 L187.06,2052.26 L186.78,2050.13 L186.36,2048.00 L185.81,2045.86 L185.15,2043.73 L184.43,2041.60 L183.67,2039.46 L182.90,2037.33 L182.17,2035.20 L181.50,2033.06 L180.91,2030.93 L180.33,2028.79 L179.75,2026.66 L179.17,2024.53 L178.60,2022.39 L178.04,2020.26 L177.50,2018.13 L176.97,2015.99 L176.47,2013.86 L176.00,2011.73 L175.56,2009.59 L175.15,2007.46 L174.79,2005.33 L174.43,2003.19 L174.06,2001.06 L173.70,1998.92 L173.36,1996.79 L173.03,1994.66 L172.72,1992.52 L172.44,1990.39 L172.20,1988.26 L171.99,1986.12 L171.83,1983.99 L171.73,1981.86 L171.67,1979.72 L171.62,1977.59 L171.58,1975.45 L171.54,1973.32 L171.52,1971.19 L171.50,1969.05 L171.51,1966.92 L171.56,1964.79 L171.66,1962.65 L171.78,1960.52 L171.91,1958.39 L172.05,1956.25 L172.18,1954.12 L172.32,1951.98 L172.48,1949.85 L172.65,1947.72 L172.83,1945.58 L173.01,1943.45 L173.19,1941.32 L173.37,1939.18 L173.54,1937.05 L173.72,1934.92 L173.89,1932.78 L174.07,1930.65 L174.24,1928.52 L174.43,1926.38 L174.61,1924.25 L174.81,1922.11 L175.01,1919.98 L175.21,1917.85 L175.43,1915.71 L175.65,1913.58 L175.89,1911.45 L176.14,1909.31 L176.40,1907.18 L176.66,1905.05 L176.94,1902.91 L177.22,1900.78 L177.51,1898.64 L177.80,1896.51 L178.09,1894.38 L178.39,1892.24 L178.68,1890.11 L178.98,1887.98 L179.28,1885.84 L179.59,1883.71 L179.90,1881.58 L180.21,1879.44 L180.53,1877.31 L180.86,1875.17 L181.19,1873.04 L181.53,1870.91 L181.87,1868.77 L182.22,1866.64 L182.58,1864.51 L182.96,1862.37 L183.36,1860.24 L183.77,1858.11 L184.20,1855.97 L184.62,1853.84 L185.06,1851.71 L185.49,1849.57 L185.91,1847.44 L186.33,1845.30 L186.73,1843.17 L187.12,1841.04 L187.49,1838.90 L187.85,1836.77 L188.20,1834.64 L188.55,1832.50 L188.89,1830.37 L189.23,1828.24 L189.56,1826.10 L189.88,1823.97 L190.20,1821.83 L190.51,1819.70 L190.81,1817.57 L191.11,1815.43 L191.40,1813.30 Z" fill="none" stroke="#46698C" stroke-width="1.80" stroke-linejoin="round"/>
<line x1="225.70" y1="1813.30" x2="225.70" y2="2067.20" stroke="#46698C" stroke-width="1.60" />
<path d="M421.30,1940.00 L421.41,1941.07 L421.55,1942.13 L421.71,1943.20 L421.89,1944.27 L422.08,1945.34 L422.29,1946.40 L422.52,1947.47 L422.76,1948.54 L423.01,1949.61 L423.27,1950.67 L423.56,1951.74 L423.89,1952.81 L424.25,1953.87 L424.64,1954.94 L425.05,1956.01 L425.48,1957.08 L425.92,1958.14 L426.37,1959.21 L426.82,1960.28 L427.27,1961.34 L427.72,1962.41 L428.15,1963.48 L428.59,1964.55 L429.04,1965.61 L429.49,1966.68 L429.95,1967.75 L430.42,1968.82 L430.89,1969.88 L431.36,1970.95 L431.83,1972.02 L432.30,1973.08 L432.78,1974.15 L433.25,1975.22 L433.71,1976.29 L434.18,1977.35 L434.65,1978.42 L435.12,1979.49 L435.58,1980.55 L436.05,1981.62 L436.53,1982.69 L437.00,1983.76 L437.47,1984.82 L437.94,1985.89 L438.41,1986.96 L438.89,1988.03 L439.36,1989.09 L439.84,1990.16 L440.32,1991.23 L440.81,1992.29 L441.29,1993.36 L441.77,1994.43 L442.26,1995.50 L442.74,1996.56 L443.22,1997.63 L443.69,1998.70 L444.17,1999.76 L444.64,2000.83 L445.11,2001.90 L445.57,2002.97 L446.04,2004.03 L446.51,2005.10 L446.98,2006.17 L447.44,2007.24 L447.90,2008.30 L448.36,2009.37 L448.81,2010.44 L449.25,2011.50 L449.68,2012.57 L450.10,2013.64 L450.51,2014.71 L450.92,2015.77 L451.33,2016.84 L451.74,2017.91 L452.14,2018.97 L452.54,2020.04 L452.92,2021.11 L453.30,2022.18 L453.66,2023.24 L454.01,2024.31 L454.34,2025.38 L454.66,2026.45 L454.96,2027.51 L455.26,2028.58 L455.56,2029.65 L455.86,2030.71 L456.15,2031.78 L456.42,2032.85 L456.69,2033.92 L456.93,2034.98 L457.16,2036.05 L457.36,2037.12 L457.54,2038.18 L457.69,2039.25 L457.83,2040.32 L457.96,2041.39 L458.10,2042.45 L458.22,2043.52 L458.34,2044.59 L458.45,2045.66 L458.55,2046.72 L458.64,2047.79 L458.71,2048.86 L458.76,2049.92 L458.79,2050.99 L458.80,2052.06 L458.80,2053.13 L458.80,2054.19 L458.80,2055.26 L458.80,2056.33 L458.80,2057.39 L458.79,2058.46 L458.79,2059.53 L458.78,2060.60 L458.77,2061.66 L458.76,2062.73 L458.75,2063.80 L458.74,2064.87 L458.72,2065.93 L458.70,2067.00 L350.30,2067.00 L350.28,2065.93 L350.26,2064.87 L350.25,2063.80 L350.24,2062.73 L350.23,2061.66 L350.22,2060.60 L350.21,2059.53 L350.21,2058.46 L350.20,2057.39 L350.20,2056.33 L350.20,2055.26 L350.20,2054.19 L350.20,2053.13 L350.20,2052.06 L350.21,2050.99 L350.24,2049.92 L350.29,2048.86 L350.36,2047.79 L350.45,2046.72 L350.55,2045.66 L350.66,2044.59 L350.78,2043.52 L350.90,2042.45 L351.04,2041.39 L351.17,2040.32 L351.31,2039.25 L351.46,2038.18 L351.64,2037.12 L351.84,2036.05 L352.07,2034.98 L352.31,2033.92 L352.58,2032.85 L352.85,2031.78 L353.14,2030.71 L353.44,2029.65 L353.74,2028.58 L354.04,2027.51 L354.34,2026.45 L354.66,2025.38 L354.99,2024.31 L355.34,2023.24 L355.70,2022.18 L356.08,2021.11 L356.46,2020.04 L356.86,2018.97 L357.26,2017.91 L357.67,2016.84 L358.08,2015.77 L358.49,2014.71 L358.90,2013.64 L359.32,2012.57 L359.75,2011.50 L360.19,2010.44 L360.64,2009.37 L361.10,2008.30 L361.56,2007.24 L362.02,2006.17 L362.49,2005.10 L362.96,2004.03 L363.43,2002.97 L363.89,2001.90 L364.36,2000.83 L364.83,1999.76 L365.31,1998.70 L365.78,1997.63 L366.26,1996.56 L366.74,1995.50 L367.23,1994.43 L367.71,1993.36 L368.19,1992.29 L368.68,1991.23 L369.16,1990.16 L369.64,1989.09 L370.11,1988.03 L370.59,1986.96 L371.06,1985.89 L371.53,1984.82 L372.00,1983.76 L372.47,1982.69 L372.95,1981.62 L373.42,1980.55 L373.88,1979.49 L374.35,1978.42 L374.82,1977.35 L375.29,1976.29 L375.75,1975.22 L376.22,1974.15 L376.70,1973.08 L377.17,1972.02 L377.64,1970.95 L378.11,1969.88 L378.58,1968.82 L379.05,1967.75 L379.51,1966.68 L379.96,1965.61 L380.41,1964.55 L380.85,1963.48 L381.28,1962.41 L381.73,1961.34 L382.18,1960.28 L382.63,1959.21 L383.08,1958.14 L383.52,1957.08 L383.95,1956.01 L384.36,1954.94 L384.75,1953.87 L385.11,1952.81 L385.44,1951.74 L385.73,1950.67 L385.99,1949.61 L386.24,1948.54 L386.48,1947.47 L386.71,1946.40 L386.92,1945.34 L387.11,1944.27 L387.29,1943.20 L387.45,1942.13 L387.59,1941.07 L387.70,1940.00 Z" fill="#D55E00" fill-opacity="0.3" stroke="none"/>
<ellipse cx="394.80" cy="1941.00" rx="7.30" ry="2.90" fill="#D55E00" fill-opacity="0.35"/>
<ellipse cx="411.30" cy="1941.00" rx="7.30" ry="2.90" fill="#D55E00" fill-opacity="0.35"/>
<ellipse cx="431.60" cy="1991.00" rx="7.30" ry="2.90" fill="#D55E00" fill-opacity="0.35"/>
<ellipse cx="386.50" cy="2016.20" rx="7.30" ry="2.90" fill="#D55E00" fill-opacity="0.35"/>
<ellipse cx="391.00" cy="2016.20" rx="7.30" ry="2.90" fill="#D55E00" fill-opacity="0.35"/>
<ellipse cx="396.00" cy="2016.20" rx="7.30" ry="2.90" fill="#D55E00" fill-opacity="0.35"/>
<ellipse cx="420.20" cy="2016.20" rx="7.30" ry="2.90" fill="#D55E00" fill-opacity="0.35"/>
<ellipse cx="357.30" cy="2041.60" rx="7.30" ry="2.90" fill="#D55E00" fill-opacity="0.35"/>
<ellipse cx="365.60" cy="2041.60" rx="7.30" ry="2.90" fill="#D55E00" fill-opacity="0.35"/>
<ellipse cx="380.80" cy="2041.60" rx="7.30" ry="2.90" fill="#D55E00" fill-opacity="0.35"/>
<ellipse cx="389.70" cy="2041.60" rx="7.30" ry="2.90" fill="#D55E00" fill-opacity="0.35"/>
<ellipse cx="411.90" cy="2041.60" rx="7.30" ry="2.90" fill="#D55E00" fill-opacity="0.35"/>
<ellipse cx="434.20" cy="2041.60" rx="7.30" ry="2.90" fill="#D55E00" fill-opacity="0.35"/>
<ellipse cx="438.00" cy="2041.60" rx="7.30" ry="2.90" fill="#D55E00" fill-opacity="0.35"/>
<ellipse cx="356.00" cy="2066.00" rx="7.30" ry="2.90" fill="#D55E00" fill-opacity="0.35"/>
<ellipse cx="364.00" cy="2066.00" rx="7.30" ry="2.90" fill="#D55E00" fill-opacity="0.35"/>
<ellipse cx="372.00" cy="2066.00" rx="7.30" ry="2.90" fill="#D55E00" fill-opacity="0.35"/>
<ellipse cx="382.00" cy="2066.00" rx="7.30" ry="2.90" fill="#D55E00" fill-opacity="0.35"/>
<ellipse cx="392.00" cy="2066.00" rx="7.30" ry="2.90" fill="#D55E00" fill-opacity="0.35"/>
<ellipse cx="400.00" cy="2066.00" rx="7.30" ry="2.90" fill="#D55E00" fill-opacity="0.35"/>
<ellipse cx="410.00" cy="2066.00" rx="7.30" ry="2.90" fill="#D55E00" fill-opacity="0.35"/>
<ellipse cx="420.00" cy="2066.00" rx="7.30" ry="2.90" fill="#D55E00" fill-opacity="0.35"/>
<ellipse cx="430.00" cy="2066.00" rx="7.30" ry="2.90" fill="#D55E00" fill-opacity="0.35"/>
<ellipse cx="440.00" cy="2066.00" rx="7.30" ry="2.90" fill="#D55E00" fill-opacity="0.35"/>
<ellipse cx="452.00" cy="2066.00" rx="7.30" ry="2.90" fill="#D55E00" fill-opacity="0.35"/>
<path d="M421.30,1940.00 L421.41,1941.07 L421.55,1942.13 L421.71,1943.20 L421.89,1944.27 L422.08,1945.34 L422.29,1946.40 L422.52,1947.47 L422.76,1948.54 L423.01,1949.61 L423.27,1950.67 L423.56,1951.74 L423.89,1952.81 L424.25,1953.87 L424.64,1954.94 L425.05,1956.01 L425.48,1957.08 L425.92,1958.14 L426.37,1959.21 L426.82,1960.28 L427.27,1961.34 L427.72,1962.41 L428.15,1963.48 L428.59,1964.55 L429.04,1965.61 L429.49,1966.68 L429.95,1967.75 L430.42,1968.82 L430.89,1969.88 L431.36,1970.95 L431.83,1972.02 L432.30,1973.08 L432.78,1974.15 L433.25,1975.22 L433.71,1976.29 L434.18,1977.35 L434.65,1978.42 L435.12,1979.49 L435.58,1980.55 L436.05,1981.62 L436.53,1982.69 L437.00,1983.76 L437.47,1984.82 L437.94,1985.89 L438.41,1986.96 L438.89,1988.03 L439.36,1989.09 L439.84,1990.16 L440.32,1991.23 L440.81,1992.29 L441.29,1993.36 L441.77,1994.43 L442.26,1995.50 L442.74,1996.56 L443.22,1997.63 L443.69,1998.70 L444.17,1999.76 L444.64,2000.83 L445.11,2001.90 L445.57,2002.97 L446.04,2004.03 L446.51,2005.10 L446.98,2006.17 L447.44,2007.24 L447.90,2008.30 L448.36,2009.37 L448.81,2010.44 L449.25,2011.50 L449.68,2012.57 L450.10,2013.64 L450.51,2014.71 L450.92,2015.77 L451.33,2016.84 L451.74,2017.91 L452.14,2018.97 L452.54,2020.04 L452.92,2021.11 L453.30,2022.18 L453.66,2023.24 L454.01,2024.31 L454.34,2025.38 L454.66,2026.45 L454.96,2027.51 L455.26,2028.58 L455.56,2029.65 L455.86,2030.71 L456.15,2031.78 L456.42,2032.85 L456.69,2033.92 L456.93,2034.98 L457.16,2036.05 L457.36,2037.12 L457.54,2038.18 L457.69,2039.25 L457.83,2040.32 L457.96,2041.39 L458.10,2042.45 L458.22,2043.52 L458.34,2044.59 L458.45,2045.66 L458.55,2046.72 L458.64,2047.79 L458.71,2048.86 L458.76,2049.92 L458.79,2050.99 L458.80,2052.06 L458.80,2053.13 L458.80,2054.19 L458.80,2055.26 L458.80,2056.33 L458.80,2057.39 L458.79,2058.46 L458.79,2059.53 L458.78,2060.60 L458.77,2061.66 L458.76,2062.73 L458.75,2063.80 L458.74,2064.87 L458.72,2065.93 L458.70,2067.00 L350.30,2067.00 L350.28,2065.93 L350.26,2064.87 L350.25,2063.80 L350.24,2062.73 L350.23,2061.66 L350.22,2060.60 L350.21,2059.53 L350.21,2058.46 L350.20,2057.39 L350.20,2056.33 L350.20,2055.26 L350.20,2054.19 L350.20,2053.13 L350.20,2052.06 L350.21,2050.99 L350.24,2049.92 L350.29,2048.86 L350.36,2047.79 L350.45,2046.72 L350.55,2045.66 L350.66,2044.59 L350.78,2043.52 L350.90,2042.45 L351.04,2041.39 L351.17,2040.32 L351.31,2039.25 L351.46,2038.18 L351.64,2037.12 L351.84,2036.05 L352.07,2034.98 L352.31,2033.92 L352.58,2032.85 L352.85,2031.78 L353.14,2030.71 L353.44,2029.65 L353.74,2028.58 L354.04,2027.51 L354.34,2026.45 L354.66,2025.38 L354.99,2024.31 L355.34,2023.24 L355.70,2022.18 L356.08,2021.11 L356.46,2020.04 L356.86,2018.97 L357.26,2017.91 L357.67,2016.84 L358.08,2015.77 L358.49,2014.71 L358.90,2013.64 L359.32,2012.57 L359.75,2011.50 L360.19,2010.44 L360.64,2009.37 L361.10,2008.30 L361.56,2007.24 L362.02,2006.17 L362.49,2005.10 L362.96,2004.03 L363.43,2002.97 L363.89,2001.90 L364.36,2000.83 L364.83,1999.76 L365.31,1998.70 L365.78,1997.63 L366.26,1996.56 L366.74,1995.50 L367.23,1994.43 L367.71,1993.36 L368.19,1992.29 L368.68,1991.23 L369.16,1990.16 L369.64,1989.09 L370.11,1988.03 L370.59,1986.96 L371.06,1985.89 L371.53,1984.82 L372.00,1983.76 L372.47,1982.69 L372.95,1981.62 L373.42,1980.55 L373.88,1979.49 L374.35,1978.42 L374.82,1977.35 L375.29,1976.29 L375.75,1975.22 L376.22,1974.15 L376.70,1973.08 L377.17,1972.02 L377.64,1970.95 L378.11,1969.88 L378.58,1968.82 L379.05,1967.75 L379.51,1966.68 L379.96,1965.61 L380.41,1964.55 L380.85,1963.48 L381.28,1962.41 L381.73,1961.34 L382.18,1960.28 L382.63,1959.21 L383.08,1958.14 L383.52,1957.08 L383.95,1956.01 L384.36,1954.94 L384.75,1953.87 L385.11,1952.81 L385.44,1951.74 L385.73,1950.67 L385.99,1949.61 L386.24,1948.54 L386.48,1947.47 L386.71,1946.40 L386.92,1945.34 L387.11,1944.27 L387.29,1943.20 L387.45,1942.13 L387.59,1941.07 L387.70,1940.00 Z" fill="none" stroke="#D55E00" stroke-width="2.00" stroke-linejoin="round"/>
<line x1="404.50" y1="1940.00" x2="404.50" y2="2067.20" stroke="#D55E00" stroke-width="1.60" />
<line x1="387.70" y1="1940.00" x2="421.30" y2="1940.00" stroke="#D55E00" stroke-width="2.00" />
<path d="M696.80,1812.50 L697.03,1814.64 L697.25,1816.78 L697.47,1818.92 L697.69,1821.05 L697.90,1823.19 L698.10,1825.33 L698.33,1827.47 L698.58,1829.61 L698.82,1831.75 L699.04,1833.89 L699.21,1836.03 L699.29,1838.16 L699.29,1840.30 L699.22,1842.44 L699.10,1844.58 L698.95,1846.72 L698.78,1848.86 L698.61,1851.00 L698.44,1853.13 L698.25,1855.27 L698.04,1857.41 L697.81,1859.55 L697.57,1861.69 L697.33,1863.83 L697.10,1865.97 L696.87,1868.11 L696.61,1870.24 L696.35,1872.38 L696.10,1874.52 L695.89,1876.66 L695.74,1878.80 L695.63,1880.94 L695.54,1883.08 L695.46,1885.21 L695.39,1887.35 L695.34,1889.49 L695.31,1891.63 L695.30,1893.77 L695.38,1895.91 L695.53,1898.05 L695.75,1900.18 L696.01,1902.32 L696.30,1904.46 L696.60,1906.60 L696.99,1908.74 L697.53,1910.88 L698.17,1913.02 L698.84,1915.16 L699.51,1917.29 L700.11,1919.43 L700.62,1921.57 L701.08,1923.71 L701.53,1925.85 L701.97,1927.99 L702.43,1930.13 L702.92,1932.26 L703.44,1934.40 L703.96,1936.54 L704.47,1938.68 L704.96,1940.82 L705.40,1942.96 L705.79,1945.10 L706.14,1947.24 L706.47,1949.37 L706.79,1951.51 L707.10,1953.65 L707.41,1955.79 L707.72,1957.93 L708.02,1960.07 L708.31,1962.21 L708.60,1964.34 L708.89,1966.48 L709.20,1968.62 L709.53,1970.76 L709.87,1972.90 L710.22,1975.04 L710.60,1977.18 L710.99,1979.32 L711.41,1981.45 L711.86,1983.59 L712.36,1985.73 L712.91,1987.87 L713.51,1990.01 L714.16,1992.15 L714.84,1994.29 L715.56,1996.42 L716.31,1998.56 L717.11,2000.70 L717.97,2002.84 L718.88,2004.98 L719.84,2007.12 L720.83,2009.26 L721.85,2011.39 L722.92,2013.53 L724.07,2015.67 L725.28,2017.81 L726.51,2019.95 L727.75,2022.09 L728.98,2024.23 L730.22,2026.37 L731.54,2028.50 L732.90,2030.64 L734.22,2032.78 L735.45,2034.92 L736.53,2037.06 L737.41,2039.20 L738.27,2041.34 L739.11,2043.47 L739.87,2045.61 L740.49,2047.75 L740.92,2049.89 L741.10,2052.03 L741.15,2054.17 L741.20,2056.31 L741.23,2058.45 L741.26,2060.58 L741.28,2062.72 L741.30,2064.86 L741.30,2067.00 L633.90,2067.00 L633.90,2064.86 L633.92,2062.72 L633.94,2060.58 L633.97,2058.45 L634.00,2056.31 L634.05,2054.17 L634.10,2052.03 L634.28,2049.89 L634.71,2047.75 L635.33,2045.61 L636.09,2043.47 L636.93,2041.34 L637.79,2039.20 L638.67,2037.06 L639.75,2034.92 L640.98,2032.78 L642.30,2030.64 L643.66,2028.50 L644.98,2026.37 L646.22,2024.23 L647.45,2022.09 L648.69,2019.95 L649.92,2017.81 L651.13,2015.67 L652.28,2013.53 L653.35,2011.39 L654.37,2009.26 L655.36,2007.12 L656.32,2004.98 L657.23,2002.84 L658.09,2000.70 L658.89,1998.56 L659.64,1996.42 L660.36,1994.29 L661.04,1992.15 L661.69,1990.01 L662.29,1987.87 L662.84,1985.73 L663.34,1983.59 L663.79,1981.45 L664.21,1979.32 L664.60,1977.18 L664.98,1975.04 L665.33,1972.90 L665.67,1970.76 L666.00,1968.62 L666.31,1966.48 L666.60,1964.34 L666.89,1962.21 L667.18,1960.07 L667.48,1957.93 L667.79,1955.79 L668.10,1953.65 L668.41,1951.51 L668.73,1949.37 L669.06,1947.24 L669.41,1945.10 L669.80,1942.96 L670.24,1940.82 L670.73,1938.68 L671.24,1936.54 L671.76,1934.40 L672.28,1932.26 L672.77,1930.13 L673.23,1927.99 L673.67,1925.85 L674.12,1923.71 L674.58,1921.57 L675.09,1919.43 L675.69,1917.29 L676.36,1915.16 L677.03,1913.02 L677.67,1910.88 L678.21,1908.74 L678.60,1906.60 L678.90,1904.46 L679.19,1902.32 L679.45,1900.18 L679.67,1898.05 L679.82,1895.91 L679.90,1893.77 L679.89,1891.63 L679.86,1889.49 L679.81,1887.35 L679.74,1885.21 L679.66,1883.08 L679.57,1880.94 L679.46,1878.80 L679.31,1876.66 L679.10,1874.52 L678.85,1872.38 L678.59,1870.24 L678.33,1868.11 L678.10,1865.97 L677.87,1863.83 L677.63,1861.69 L677.39,1859.55 L677.16,1857.41 L676.95,1855.27 L676.76,1853.13 L676.59,1851.00 L676.42,1848.86 L676.25,1846.72 L676.10,1844.58 L675.98,1842.44 L675.91,1840.30 L675.91,1838.16 L675.99,1836.03 L676.16,1833.89 L676.38,1831.75 L676.62,1829.61 L676.87,1827.47 L677.10,1825.33 L677.30,1823.19 L677.51,1821.05 L677.73,1818.92 L677.95,1816.78 L678.17,1814.64 L678.40,1812.50 Z" fill="#009E73" fill-opacity="0.3" stroke="none"/>
<ellipse cx="691.30" cy="1815.00" rx="7.30" ry="2.90" fill="#009E73" fill-opacity="0.35"/>
<ellipse cx="698.00" cy="1815.00" rx="7.30" ry="2.90" fill="#009E73" fill-opacity="0.35"/>
<ellipse cx="681.80" cy="1837.90" rx="7.30" ry="2.90" fill="#009E73" fill-opacity="0.35"/>
<ellipse cx="689.90" cy="1837.90" rx="7.30" ry="2.90" fill="#009E73" fill-opacity="0.35"/>
<ellipse cx="696.70" cy="1837.90" rx="7.30" ry="2.90" fill="#009E73" fill-opacity="0.35"/>
<ellipse cx="699.40" cy="1837.90" rx="7.30" ry="2.90" fill="#009E73" fill-opacity="0.35"/>
<ellipse cx="683.80" cy="1863.50" rx="7.30" ry="2.90" fill="#009E73" fill-opacity="0.35"/>
<ellipse cx="694.70" cy="1863.50" rx="7.30" ry="2.90" fill="#009E73" fill-opacity="0.35"/>
<ellipse cx="699.40" cy="1863.50" rx="7.30" ry="2.90" fill="#009E73" fill-opacity="0.35"/>
<ellipse cx="689.90" cy="1914.10" rx="7.30" ry="2.90" fill="#009E73" fill-opacity="0.35"/>
<ellipse cx="669.60" cy="1939.80" rx="7.30" ry="2.90" fill="#009E73" fill-opacity="0.35"/>
<ellipse cx="676.40" cy="1939.80" rx="7.30" ry="2.90" fill="#009E73" fill-opacity="0.35"/>
<ellipse cx="696.00" cy="1939.80" rx="7.30" ry="2.90" fill="#009E73" fill-opacity="0.35"/>
<ellipse cx="666.90" cy="1965.50" rx="7.30" ry="2.90" fill="#009E73" fill-opacity="0.35"/>
<ellipse cx="672.30" cy="1965.50" rx="7.30" ry="2.90" fill="#009E73" fill-opacity="0.35"/>
<ellipse cx="679.10" cy="1965.50" rx="7.30" ry="2.90" fill="#009E73" fill-opacity="0.35"/>
<ellipse cx="663.50" cy="1990.70" rx="7.30" ry="2.90" fill="#009E73" fill-opacity="0.35"/>
<ellipse cx="682.50" cy="1990.70" rx="7.30" ry="2.90" fill="#009E73" fill-opacity="0.35"/>
<ellipse cx="710.30" cy="1990.70" rx="7.30" ry="2.90" fill="#009E73" fill-opacity="0.35"/>
<ellipse cx="658.10" cy="2016.00" rx="7.30" ry="2.90" fill="#009E73" fill-opacity="0.35"/>
<ellipse cx="676.40" cy="2016.00" rx="7.30" ry="2.90" fill="#009E73" fill-opacity="0.35"/>
<ellipse cx="690.60" cy="2016.00" rx="7.30" ry="2.90" fill="#009E73" fill-opacity="0.35"/>
<ellipse cx="710.30" cy="2016.00" rx="7.30" ry="2.90" fill="#009E73" fill-opacity="0.35"/>
<ellipse cx="661.50" cy="2041.80" rx="7.30" ry="2.90" fill="#009E73" fill-opacity="0.35"/>
<ellipse cx="681.10" cy="2041.80" rx="7.30" ry="2.90" fill="#009E73" fill-opacity="0.35"/>
<ellipse cx="689.90" cy="2041.80" rx="7.30" ry="2.90" fill="#009E73" fill-opacity="0.35"/>
<ellipse cx="700.10" cy="2041.80" rx="7.30" ry="2.90" fill="#009E73" fill-opacity="0.35"/>
<ellipse cx="717.70" cy="2041.80" rx="7.30" ry="2.90" fill="#009E73" fill-opacity="0.35"/>
<ellipse cx="730.60" cy="2041.80" rx="7.30" ry="2.90" fill="#009E73" fill-opacity="0.35"/>
<ellipse cx="650.00" cy="2066.00" rx="7.30" ry="2.90" fill="#009E73" fill-opacity="0.35"/>
<ellipse cx="656.00" cy="2066.00" rx="7.30" ry="2.90" fill="#009E73" fill-opacity="0.35"/>
<ellipse cx="662.00" cy="2066.00" rx="7.30" ry="2.90" fill="#009E73" fill-opacity="0.35"/>
<ellipse cx="668.00" cy="2066.00" rx="7.30" ry="2.90" fill="#009E73" fill-opacity="0.35"/>
<ellipse cx="676.00" cy="2066.00" rx="7.30" ry="2.90" fill="#009E73" fill-opacity="0.35"/>
<ellipse cx="684.00" cy="2066.00" rx="7.30" ry="2.90" fill="#009E73" fill-opacity="0.35"/>
<ellipse cx="694.00" cy="2066.00" rx="7.30" ry="2.90" fill="#009E73" fill-opacity="0.35"/>
<ellipse cx="704.00" cy="2066.00" rx="7.30" ry="2.90" fill="#009E73" fill-opacity="0.35"/>
<ellipse cx="714.00" cy="2066.00" rx="7.30" ry="2.90" fill="#009E73" fill-opacity="0.35"/>
<ellipse cx="724.00" cy="2066.00" rx="7.30" ry="2.90" fill="#009E73" fill-opacity="0.35"/>
<ellipse cx="734.00" cy="2066.00" rx="7.30" ry="2.90" fill="#009E73" fill-opacity="0.35"/>
<path d="M696.80,1812.50 L697.03,1814.64 L697.25,1816.78 L697.47,1818.92 L697.69,1821.05 L697.90,1823.19 L698.10,1825.33 L698.33,1827.47 L698.58,1829.61 L698.82,1831.75 L699.04,1833.89 L699.21,1836.03 L699.29,1838.16 L699.29,1840.30 L699.22,1842.44 L699.10,1844.58 L698.95,1846.72 L698.78,1848.86 L698.61,1851.00 L698.44,1853.13 L698.25,1855.27 L698.04,1857.41 L697.81,1859.55 L697.57,1861.69 L697.33,1863.83 L697.10,1865.97 L696.87,1868.11 L696.61,1870.24 L696.35,1872.38 L696.10,1874.52 L695.89,1876.66 L695.74,1878.80 L695.63,1880.94 L695.54,1883.08 L695.46,1885.21 L695.39,1887.35 L695.34,1889.49 L695.31,1891.63 L695.30,1893.77 L695.38,1895.91 L695.53,1898.05 L695.75,1900.18 L696.01,1902.32 L696.30,1904.46 L696.60,1906.60 L696.99,1908.74 L697.53,1910.88 L698.17,1913.02 L698.84,1915.16 L699.51,1917.29 L700.11,1919.43 L700.62,1921.57 L701.08,1923.71 L701.53,1925.85 L701.97,1927.99 L702.43,1930.13 L702.92,1932.26 L703.44,1934.40 L703.96,1936.54 L704.47,1938.68 L704.96,1940.82 L705.40,1942.96 L705.79,1945.10 L706.14,1947.24 L706.47,1949.37 L706.79,1951.51 L707.10,1953.65 L707.41,1955.79 L707.72,1957.93 L708.02,1960.07 L708.31,1962.21 L708.60,1964.34 L708.89,1966.48 L709.20,1968.62 L709.53,1970.76 L709.87,1972.90 L710.22,1975.04 L710.60,1977.18 L710.99,1979.32 L711.41,1981.45 L711.86,1983.59 L712.36,1985.73 L712.91,1987.87 L713.51,1990.01 L714.16,1992.15 L714.84,1994.29 L715.56,1996.42 L716.31,1998.56 L717.11,2000.70 L717.97,2002.84 L718.88,2004.98 L719.84,2007.12 L720.83,2009.26 L721.85,2011.39 L722.92,2013.53 L724.07,2015.67 L725.28,2017.81 L726.51,2019.95 L727.75,2022.09 L728.98,2024.23 L730.22,2026.37 L731.54,2028.50 L732.90,2030.64 L734.22,2032.78 L735.45,2034.92 L736.53,2037.06 L737.41,2039.20 L738.27,2041.34 L739.11,2043.47 L739.87,2045.61 L740.49,2047.75 L740.92,2049.89 L741.10,2052.03 L741.15,2054.17 L741.20,2056.31 L741.23,2058.45 L741.26,2060.58 L741.28,2062.72 L741.30,2064.86 L741.30,2067.00 L633.90,2067.00 L633.90,2064.86 L633.92,2062.72 L633.94,2060.58 L633.97,2058.45 L634.00,2056.31 L634.05,2054.17 L634.10,2052.03 L634.28,2049.89 L634.71,2047.75 L635.33,2045.61 L636.09,2043.47 L636.93,2041.34 L637.79,2039.20 L638.67,2037.06 L639.75,2034.92 L640.98,2032.78 L642.30,2030.64 L643.66,2028.50 L644.98,2026.37 L646.22,2024.23 L647.45,2022.09 L648.69,2019.95 L649.92,2017.81 L651.13,2015.67 L652.28,2013.53 L653.35,2011.39 L654.37,2009.26 L655.36,2007.12 L656.32,2004.98 L657.23,2002.84 L658.09,2000.70 L658.89,1998.56 L659.64,1996.42 L660.36,1994.29 L661.04,1992.15 L661.69,1990.01 L662.29,1987.87 L662.84,1985.73 L663.34,1983.59 L663.79,1981.45 L664.21,1979.32 L664.60,1977.18 L664.98,1975.04 L665.33,1972.90 L665.67,1970.76 L666.00,1968.62 L666.31,1966.48 L666.60,1964.34 L666.89,1962.21 L667.18,1960.07 L667.48,1957.93 L667.79,1955.79 L668.10,1953.65 L668.41,1951.51 L668.73,1949.37 L669.06,1947.24 L669.41,1945.10 L669.80,1942.96 L670.24,1940.82 L670.73,1938.68 L671.24,1936.54 L671.76,1934.40 L672.28,1932.26 L672.77,1930.13 L673.23,1927.99 L673.67,1925.85 L674.12,1923.71 L674.58,1921.57 L675.09,1919.43 L675.69,1917.29 L676.36,1915.16 L677.03,1913.02 L677.67,1910.88 L678.21,1908.74 L678.60,1906.60 L678.90,1904.46 L679.19,1902.32 L679.45,1900.18 L679.67,1898.05 L679.82,1895.91 L679.90,1893.77 L679.89,1891.63 L679.86,1889.49 L679.81,1887.35 L679.74,1885.21 L679.66,1883.08 L679.57,1880.94 L679.46,1878.80 L679.31,1876.66 L679.10,1874.52 L678.85,1872.38 L678.59,1870.24 L678.33,1868.11 L678.10,1865.97 L677.87,1863.83 L677.63,1861.69 L677.39,1859.55 L677.16,1857.41 L676.95,1855.27 L676.76,1853.13 L676.59,1851.00 L676.42,1848.86 L676.25,1846.72 L676.10,1844.58 L675.98,1842.44 L675.91,1840.30 L675.91,1838.16 L675.99,1836.03 L676.16,1833.89 L676.38,1831.75 L676.62,1829.61 L676.87,1827.47 L677.10,1825.33 L677.30,1823.19 L677.51,1821.05 L677.73,1818.92 L677.95,1816.78 L678.17,1814.64 L678.40,1812.50 Z" fill="none" stroke="#009E73" stroke-width="2.00" stroke-linejoin="round"/>
<line x1="687.60" y1="1812.50" x2="687.60" y2="2067.00" stroke="#009E73" stroke-width="1.60" />
<path d="M894.90,1812.50 L895.18,1814.64 L895.46,1816.78 L895.74,1818.92 L896.03,1821.05 L896.31,1823.19 L896.60,1825.33 L896.90,1827.47 L897.19,1829.61 L897.48,1831.75 L897.78,1833.89 L898.08,1836.03 L898.39,1838.16 L898.71,1840.30 L899.05,1842.44 L899.40,1844.58 L899.75,1846.72 L900.08,1848.86 L900.40,1851.00 L900.70,1853.13 L900.98,1855.27 L901.25,1857.41 L901.51,1859.55 L901.75,1861.69 L901.98,1863.83 L902.20,1865.97 L902.39,1868.11 L902.57,1870.24 L902.74,1872.38 L902.90,1874.52 L903.06,1876.66 L903.24,1878.80 L903.43,1880.94 L903.62,1883.08 L903.83,1885.21 L904.03,1887.35 L904.24,1889.49 L904.45,1891.63 L904.67,1893.77 L904.89,1895.91 L905.12,1898.05 L905.35,1900.18 L905.58,1902.32 L905.80,1904.46 L906.00,1906.60 L906.18,1908.74 L906.34,1910.88 L906.49,1913.02 L906.64,1915.16 L906.81,1917.29 L907.02,1919.43 L907.29,1921.57 L907.68,1923.71 L908.11,1925.85 L908.52,1927.99 L908.81,1930.13 L909.01,1932.26 L909.17,1934.40 L909.31,1936.54 L909.44,1938.68 L909.59,1940.82 L909.75,1942.96 L909.95,1945.10 L910.19,1947.24 L910.44,1949.37 L910.71,1951.51 L910.98,1953.65 L911.24,1955.79 L911.50,1957.93 L911.74,1960.07 L911.99,1962.21 L912.24,1964.34 L912.49,1966.48 L912.75,1968.62 L913.02,1970.76 L913.31,1972.90 L913.62,1975.04 L913.94,1977.18 L914.27,1979.32 L914.59,1981.45 L914.91,1983.59 L915.22,1985.73 L915.52,1987.87 L915.82,1990.01 L916.12,1992.15 L916.42,1994.29 L916.72,1996.42 L917.02,1998.56 L917.33,2000.70 L917.64,2002.84 L917.95,2004.98 L918.25,2007.12 L918.54,2009.26 L918.81,2011.39 L919.08,2013.53 L919.36,2015.67 L919.62,2017.81 L919.87,2019.95 L920.09,2022.09 L920.26,2024.23 L920.40,2026.37 L920.53,2028.50 L920.66,2030.64 L920.76,2032.78 L920.84,2034.92 L920.89,2037.06 L920.89,2039.20 L920.82,2041.34 L920.68,2043.47 L920.50,2045.61 L920.29,2047.75 L920.08,2049.89 L919.89,2052.03 L919.70,2054.17 L919.51,2056.31 L919.30,2058.45 L919.09,2060.58 L918.87,2062.72 L918.64,2064.86 L918.40,2067.00 L814.20,2067.00 L813.96,2064.86 L813.73,2062.72 L813.51,2060.58 L813.30,2058.45 L813.09,2056.31 L812.90,2054.17 L812.71,2052.03 L812.52,2049.89 L812.31,2047.75 L812.10,2045.61 L811.92,2043.47 L811.78,2041.34 L811.71,2039.20 L811.71,2037.06 L811.76,2034.92 L811.84,2032.78 L811.94,2030.64 L812.07,2028.50 L812.20,2026.37 L812.34,2024.23 L812.51,2022.09 L812.73,2019.95 L812.98,2017.81 L813.24,2015.67 L813.52,2013.53 L813.79,2011.39 L814.06,2009.26 L814.35,2007.12 L814.65,2004.98 L814.96,2002.84 L815.27,2000.70 L815.58,1998.56 L815.88,1996.42 L816.18,1994.29 L816.48,1992.15 L816.78,1990.01 L817.08,1987.87 L817.38,1985.73 L817.69,1983.59 L818.01,1981.45 L818.33,1979.32 L818.66,1977.18 L818.98,1975.04 L819.29,1972.90 L819.58,1970.76 L819.85,1968.62 L820.11,1966.48 L820.36,1964.34 L820.61,1962.21 L820.86,1960.07 L821.10,1957.93 L821.36,1955.79 L821.62,1953.65 L821.89,1951.51 L822.16,1949.37 L822.41,1947.24 L822.65,1945.10 L822.85,1942.96 L823.01,1940.82 L823.16,1938.68 L823.29,1936.54 L823.43,1934.40 L823.59,1932.26 L823.79,1930.13 L824.08,1927.99 L824.49,1925.85 L824.92,1923.71 L825.31,1921.57 L825.58,1919.43 L825.79,1917.29 L825.96,1915.16 L826.11,1913.02 L826.26,1910.88 L826.42,1908.74 L826.60,1906.60 L826.80,1904.46 L827.02,1902.32 L827.25,1900.18 L827.48,1898.05 L827.71,1895.91 L827.93,1893.77 L828.15,1891.63 L828.36,1889.49 L828.57,1887.35 L828.77,1885.21 L828.98,1883.08 L829.17,1880.94 L829.36,1878.80 L829.54,1876.66 L829.70,1874.52 L829.86,1872.38 L830.03,1870.24 L830.21,1868.11 L830.40,1865.97 L830.62,1863.83 L830.85,1861.69 L831.09,1859.55 L831.35,1857.41 L831.62,1855.27 L831.90,1853.13 L832.20,1851.00 L832.52,1848.86 L832.85,1846.72 L833.20,1844.58 L833.55,1842.44 L833.89,1840.30 L834.21,1838.16 L834.52,1836.03 L834.82,1833.89 L835.12,1831.75 L835.41,1829.61 L835.70,1827.47 L836.00,1825.33 L836.29,1823.19 L836.57,1821.05 L836.86,1818.92 L837.14,1816.78 L837.42,1814.64 L837.70,1812.50 Z" fill="#F0E442" fill-opacity="0.3" stroke="none"/>
<ellipse cx="854.40" cy="1815.00" rx="7.30" ry="2.90" fill="#C8963C" fill-opacity="0.32"/>
<ellipse cx="869.90" cy="1815.00" rx="7.30" ry="2.90" fill="#C8963C" fill-opacity="0.32"/>
<ellipse cx="841.50" cy="1837.90" rx="7.30" ry="2.90" fill="#C8963C" fill-opacity="0.32"/>
<ellipse cx="846.00" cy="1837.90" rx="7.30" ry="2.90" fill="#C8963C" fill-opacity="0.32"/>
<ellipse cx="856.40" cy="1837.90" rx="7.30" ry="2.90" fill="#C8963C" fill-opacity="0.32"/>
<ellipse cx="863.80" cy="1837.90" rx="7.30" ry="2.90" fill="#C8963C" fill-opacity="0.32"/>
<ellipse cx="868.60" cy="1837.90" rx="7.30" ry="2.90" fill="#C8963C" fill-opacity="0.32"/>
<ellipse cx="895.00" cy="1837.90" rx="7.30" ry="2.90" fill="#C8963C" fill-opacity="0.32"/>
<ellipse cx="839.50" cy="1863.50" rx="7.30" ry="2.90" fill="#C8963C" fill-opacity="0.32"/>
<ellipse cx="858.40" cy="1863.50" rx="7.30" ry="2.90" fill="#C8963C" fill-opacity="0.32"/>
<ellipse cx="880.10" cy="1863.50" rx="7.30" ry="2.90" fill="#C8963C" fill-opacity="0.32"/>
<ellipse cx="886.20" cy="1889.00" rx="7.30" ry="2.90" fill="#C8963C" fill-opacity="0.32"/>
<ellipse cx="880.10" cy="1914.50" rx="7.30" ry="2.90" fill="#C8963C" fill-opacity="0.32"/>
<ellipse cx="886.20" cy="1914.50" rx="7.30" ry="2.90" fill="#C8963C" fill-opacity="0.32"/>
<ellipse cx="845.50" cy="1939.80" rx="7.30" ry="2.90" fill="#C8963C" fill-opacity="0.32"/>
<ellipse cx="878.10" cy="1939.80" rx="7.30" ry="2.90" fill="#C8963C" fill-opacity="0.32"/>
<ellipse cx="883.50" cy="1939.80" rx="7.30" ry="2.90" fill="#C8963C" fill-opacity="0.32"/>
<ellipse cx="888.90" cy="1939.80" rx="7.30" ry="2.90" fill="#C8963C" fill-opacity="0.32"/>
<ellipse cx="838.80" cy="1965.50" rx="7.30" ry="2.90" fill="#C8963C" fill-opacity="0.32"/>
<ellipse cx="859.10" cy="1965.50" rx="7.30" ry="2.90" fill="#C8963C" fill-opacity="0.32"/>
<ellipse cx="863.80" cy="1965.50" rx="7.30" ry="2.90" fill="#C8963C" fill-opacity="0.32"/>
<ellipse cx="867.20" cy="1965.50" rx="7.30" ry="2.90" fill="#C8963C" fill-opacity="0.32"/>
<ellipse cx="897.00" cy="1965.50" rx="7.30" ry="2.90" fill="#C8963C" fill-opacity="0.32"/>
<ellipse cx="844.20" cy="1990.70" rx="7.30" ry="2.90" fill="#C8963C" fill-opacity="0.32"/>
<ellipse cx="906.50" cy="1990.70" rx="7.30" ry="2.90" fill="#C8963C" fill-opacity="0.32"/>
<ellipse cx="814.40" cy="2016.00" rx="7.30" ry="2.90" fill="#C8963C" fill-opacity="0.32"/>
<ellipse cx="819.10" cy="2041.80" rx="7.30" ry="2.90" fill="#C8963C" fill-opacity="0.32"/>
<ellipse cx="825.20" cy="2041.80" rx="7.30" ry="2.90" fill="#C8963C" fill-opacity="0.32"/>
<ellipse cx="882.10" cy="2041.80" rx="7.30" ry="2.90" fill="#C8963C" fill-opacity="0.32"/>
<ellipse cx="816.00" cy="2066.00" rx="7.30" ry="2.90" fill="#C8963C" fill-opacity="0.32"/>
<ellipse cx="825.00" cy="2066.00" rx="7.30" ry="2.90" fill="#C8963C" fill-opacity="0.32"/>
<ellipse cx="835.00" cy="2066.00" rx="7.30" ry="2.90" fill="#C8963C" fill-opacity="0.32"/>
<ellipse cx="845.00" cy="2066.00" rx="7.30" ry="2.90" fill="#C8963C" fill-opacity="0.32"/>
<ellipse cx="855.00" cy="2066.00" rx="7.30" ry="2.90" fill="#C8963C" fill-opacity="0.32"/>
<ellipse cx="862.00" cy="2066.00" rx="7.30" ry="2.90" fill="#C8963C" fill-opacity="0.32"/>
<ellipse cx="875.00" cy="2066.00" rx="7.30" ry="2.90" fill="#C8963C" fill-opacity="0.32"/>
<ellipse cx="885.00" cy="2066.00" rx="7.30" ry="2.90" fill="#C8963C" fill-opacity="0.32"/>
<ellipse cx="898.00" cy="2066.00" rx="7.30" ry="2.90" fill="#C8963C" fill-opacity="0.32"/>
<ellipse cx="914.00" cy="2066.00" rx="7.30" ry="2.90" fill="#C8963C" fill-opacity="0.32"/>
<path d="M894.90,1812.50 L895.18,1814.64 L895.46,1816.78 L895.74,1818.92 L896.03,1821.05 L896.31,1823.19 L896.60,1825.33 L896.90,1827.47 L897.19,1829.61 L897.48,1831.75 L897.78,1833.89 L898.08,1836.03 L898.39,1838.16 L898.71,1840.30 L899.05,1842.44 L899.40,1844.58 L899.75,1846.72 L900.08,1848.86 L900.40,1851.00 L900.70,1853.13 L900.98,1855.27 L901.25,1857.41 L901.51,1859.55 L901.75,1861.69 L901.98,1863.83 L902.20,1865.97 L902.39,1868.11 L902.57,1870.24 L902.74,1872.38 L902.90,1874.52 L903.06,1876.66 L903.24,1878.80 L903.43,1880.94 L903.62,1883.08 L903.83,1885.21 L904.03,1887.35 L904.24,1889.49 L904.45,1891.63 L904.67,1893.77 L904.89,1895.91 L905.12,1898.05 L905.35,1900.18 L905.58,1902.32 L905.80,1904.46 L906.00,1906.60 L906.18,1908.74 L906.34,1910.88 L906.49,1913.02 L906.64,1915.16 L906.81,1917.29 L907.02,1919.43 L907.29,1921.57 L907.68,1923.71 L908.11,1925.85 L908.52,1927.99 L908.81,1930.13 L909.01,1932.26 L909.17,1934.40 L909.31,1936.54 L909.44,1938.68 L909.59,1940.82 L909.75,1942.96 L909.95,1945.10 L910.19,1947.24 L910.44,1949.37 L910.71,1951.51 L910.98,1953.65 L911.24,1955.79 L911.50,1957.93 L911.74,1960.07 L911.99,1962.21 L912.24,1964.34 L912.49,1966.48 L912.75,1968.62 L913.02,1970.76 L913.31,1972.90 L913.62,1975.04 L913.94,1977.18 L914.27,1979.32 L914.59,1981.45 L914.91,1983.59 L915.22,1985.73 L915.52,1987.87 L915.82,1990.01 L916.12,1992.15 L916.42,1994.29 L916.72,1996.42 L917.02,1998.56 L917.33,2000.70 L917.64,2002.84 L917.95,2004.98 L918.25,2007.12 L918.54,2009.26 L918.81,2011.39 L919.08,2013.53 L919.36,2015.67 L919.62,2017.81 L919.87,2019.95 L920.09,2022.09 L920.26,2024.23 L920.40,2026.37 L920.53,2028.50 L920.66,2030.64 L920.76,2032.78 L920.84,2034.92 L920.89,2037.06 L920.89,2039.20 L920.82,2041.34 L920.68,2043.47 L920.50,2045.61 L920.29,2047.75 L920.08,2049.89 L919.89,2052.03 L919.70,2054.17 L919.51,2056.31 L919.30,2058.45 L919.09,2060.58 L918.87,2062.72 L918.64,2064.86 L918.40,2067.00 L814.20,2067.00 L813.96,2064.86 L813.73,2062.72 L813.51,2060.58 L813.30,2058.45 L813.09,2056.31 L812.90,2054.17 L812.71,2052.03 L812.52,2049.89 L812.31,2047.75 L812.10,2045.61 L811.92,2043.47 L811.78,2041.34 L811.71,2039.20 L811.71,2037.06 L811.76,2034.92 L811.84,2032.78 L811.94,2030.64 L812.07,2028.50 L812.20,2026.37 L812.34,2024.23 L812.51,2022.09 L812.73,2019.95 L812.98,2017.81 L813.24,2015.67 L813.52,2013.53 L813.79,2011.39 L814.06,2009.26 L814.35,2007.12 L814.65,2004.98 L814.96,2002.84 L815.27,2000.70 L815.58,1998.56 L815.88,1996.42 L816.18,1994.29 L816.48,1992.15 L816.78,1990.01 L817.08,1987.87 L817.38,1985.73 L817.69,1983.59 L818.01,1981.45 L818.33,1979.32 L818.66,1977.18 L818.98,1975.04 L819.29,1972.90 L819.58,1970.76 L819.85,1968.62 L820.11,1966.48 L820.36,1964.34 L820.61,1962.21 L820.86,1960.07 L821.10,1957.93 L821.36,1955.79 L821.62,1953.65 L821.89,1951.51 L822.16,1949.37 L822.41,1947.24 L822.65,1945.10 L822.85,1942.96 L823.01,1940.82 L823.16,1938.68 L823.29,1936.54 L823.43,1934.40 L823.59,1932.26 L823.79,1930.13 L824.08,1927.99 L824.49,1925.85 L824.92,1923.71 L825.31,1921.57 L825.58,1919.43 L825.79,1917.29 L825.96,1915.16 L826.11,1913.02 L826.26,1910.88 L826.42,1908.74 L826.60,1906.60 L826.80,1904.46 L827.02,1902.32 L827.25,1900.18 L827.48,1898.05 L827.71,1895.91 L827.93,1893.77 L828.15,1891.63 L828.36,1889.49 L828.57,1887.35 L828.77,1885.21 L828.98,1883.08 L829.17,1880.94 L829.36,1878.80 L829.54,1876.66 L829.70,1874.52 L829.86,1872.38 L830.03,1870.24 L830.21,1868.11 L830.40,1865.97 L830.62,1863.83 L830.85,1861.69 L831.09,1859.55 L831.35,1857.41 L831.62,1855.27 L831.90,1853.13 L832.20,1851.00 L832.52,1848.86 L832.85,1846.72 L833.20,1844.58 L833.55,1842.44 L833.89,1840.30 L834.21,1838.16 L834.52,1836.03 L834.82,1833.89 L835.12,1831.75 L835.41,1829.61 L835.70,1827.47 L836.00,1825.33 L836.29,1823.19 L836.57,1821.05 L836.86,1818.92 L837.14,1816.78 L837.42,1814.64 L837.70,1812.50 Z" fill="none" stroke="#F0E442" stroke-width="2.20" stroke-linejoin="round"/>
<line x1="866.30" y1="1812.50" x2="866.30" y2="2067.00" stroke="#F0E442" stroke-width="1.60" />
<line x1="160.80" y1="1955.40" x2="296.00" y2="1955.40" stroke="#000" stroke-width="3.80" stroke-dasharray="21.00 12.70" stroke-dashoffset="10.20"/>
<line x1="340.80" y1="2060.90" x2="471.00" y2="2060.90" stroke="#000" stroke-width="3.80" stroke-dasharray="19.70 12.70" stroke-dashoffset="9.50"/>
<line x1="612.70" y1="2032.60" x2="768.10" y2="2032.60" stroke="#000" stroke-width="3.50" stroke-dasharray="18.30 12.10" stroke-dashoffset="7.50"/>
<line x1="799.50" y1="1979.50" x2="934.70" y2="1979.50" stroke="#000" stroke-width="3.50" stroke-dasharray="21.00 12.50" stroke-dashoffset="10.20"/>
<rect x="136.20" y="1813.30" width="357.80" height="253.90" fill="none" stroke="#262626" stroke-width="1.7"/>
<line x1="135.40" y1="1813.30" x2="494.80" y2="1813.30" stroke="#111" stroke-width="2.10" />
<line x1="135.40" y1="2067.20" x2="494.80" y2="2067.20" stroke="#111" stroke-width="2.10" />
<rect x="598.00" y="1812.50" width="358.00" height="254.50" fill="none" stroke="#262626" stroke-width="1.7"/>
<line x1="597.20" y1="1812.50" x2="956.80" y2="1812.50" stroke="#111" stroke-width="2.10" />
<line x1="597.20" y1="2067.00" x2="956.80" y2="2067.00" stroke="#111" stroke-width="2.10" />
<path d="M476.7 1949.6 C483.5 1952.5 486.2 1960 486.2 1972 L486.2 1990 C486.2 2000 489 2005.5 495.3 2007 C489 2008.5 486.4 2014 486.4 2024 L486.4 2042 C486.4 2054 483.5 2061.5 476.7 2064.5" fill="none" stroke="#262626" stroke-width="3.0" stroke-linecap="round"/>
<path d="M503.10 2009.90 L518.30 2009.90 M505.65 2002.94 L515.75 2016.86 M515.75 2002.94 L505.65 2016.86" stroke="#000" stroke-width="2.7" fill="none"/>
<path d="M520.90 2009.90 L536.10 2009.90 M523.45 2002.94 L533.55 2016.86 M533.55 2002.94 L523.45 2016.86" stroke="#000" stroke-width="2.7" fill="none"/>
<path d="M538.40 2009.90 L553.60 2009.90 M540.95 2002.94 L551.05 2016.86 M551.05 2002.94 L540.95 2016.86" stroke="#000" stroke-width="2.7" fill="none"/>
</svg></body></html>
